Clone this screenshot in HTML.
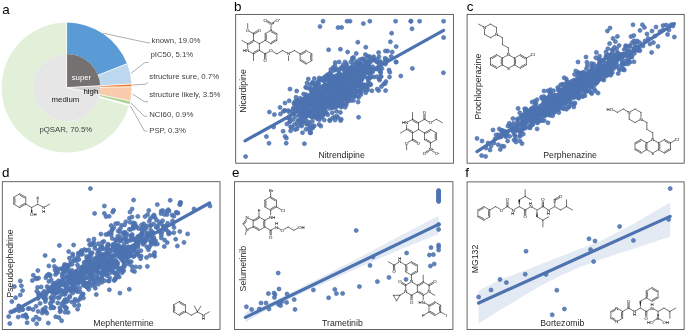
<!DOCTYPE html>
<html><head><meta charset="utf-8"><title>figure</title>
<style>
html,body{margin:0;padding:0;background:#fff;}
body{width:685px;height:331px;overflow:hidden;font-family:"Liberation Sans",Arial,sans-serif;}
svg{display:block;font-family:"Liberation Sans",Arial,sans-serif;}
</style></head><body>
<svg width="685" height="331" viewBox="0 0 685 331">
<rect width="685" height="331" fill="#fff"/>
<g id="pie">
<path d="M66.60,53.90L66.60,22.60A65.0,65.0 0 0 1 127.04,63.67L97.93,75.19A33.7,33.7 0 0 0 66.60,53.90Z" fill="#5b9bd5"/>
<path d="M97.93,75.19L127.04,63.67A65.0,65.0 0 0 1 131.50,83.93L100.25,85.70A33.7,33.7 0 0 0 97.93,75.19Z" fill="#bdd7ee"/>
<path d="M100.25,85.70L131.50,83.93A65.0,65.0 0 0 1 131.59,86.78L100.30,87.18A33.7,33.7 0 0 0 100.25,85.70Z" fill="#ed7d31"/>
<path d="M100.30,87.18L131.59,86.78A65.0,65.0 0 0 1 130.21,100.98L99.58,94.54A33.7,33.7 0 0 0 100.30,87.18Z" fill="#f8cbad"/>
<path d="M99.58,94.54L130.21,100.98A65.0,65.0 0 0 1 129.35,104.55L99.13,96.39A33.7,33.7 0 0 0 99.58,94.54Z" fill="#a9d18e"/>
<path d="M99.13,96.39L129.35,104.55A65.0,65.0 0 0 1 129.02,105.73L98.96,97.00A33.7,33.7 0 0 0 99.13,96.39Z" fill="#ffffff"/>
<path d="M98.96,97.00L129.02,105.73A65.0,65.0 0 1 1 66.60,22.60L66.60,53.90A33.7,33.7 0 1 0 98.96,97.00Z" fill="#e2f0d9"/>
<path d="M66.60,87.60L66.60,53.90A33.7,33.7 0 0 1 100.25,85.70Z" fill="#767171"/>
<path d="M66.60,87.60L100.25,85.70A33.7,33.7 0 0 1 99.58,94.54Z" fill="#d0cece"/>
<path d="M66.60,87.60L99.58,94.54A33.7,33.7 0 1 1 66.60,53.90Z" fill="#e7e6e6"/>
<line x1="66.60" y1="53.90" x2="66.60" y2="22.30" stroke="#fff" stroke-width="0.8"/>
<line x1="97.93" y1="75.19" x2="127.31" y2="63.56" stroke="#fff" stroke-width="0.8"/>
<line x1="100.25" y1="85.70" x2="131.80" y2="83.91" stroke="#fff" stroke-width="0.8"/>
<line x1="100.30" y1="87.18" x2="131.89" y2="86.78" stroke="#fff" stroke-width="0.8"/>
<line x1="99.58" y1="94.54" x2="130.50" y2="101.04" stroke="#fff" stroke-width="0.8"/>
<line x1="99.13" y1="96.39" x2="129.64" y2="104.63" stroke="#fff" stroke-width="0.8"/>
<line x1="98.96" y1="97.00" x2="129.31" y2="105.82" stroke="#fff" stroke-width="0.8"/>
<line x1="66.60" y1="87.60" x2="66.60" y2="53.90" stroke="#fff" stroke-width="0.8"/>
<line x1="66.60" y1="87.60" x2="100.25" y2="85.70" stroke="#fff" stroke-width="0.8"/>
<line x1="66.60" y1="87.60" x2="99.58" y2="94.54" stroke="#fff" stroke-width="0.8"/>
</g>
<polyline fill="none" stroke="#8c8c8c" stroke-width="0.7" points="103.2,33.2 146.7,42.6 150,42.8"/>
<polyline fill="none" stroke="#8c8c8c" stroke-width="0.7" points="130.7,73.6 144.9,62.5 148.5,62.5"/>
<polyline fill="none" stroke="#8c8c8c" stroke-width="0.7" points="132.4,85.0 146.0,84.2 148.2,82.0"/>
<polyline fill="none" stroke="#8c8c8c" stroke-width="0.7" points="132.4,94.0 144.5,101.7 148,101.7"/>
<polyline fill="none" stroke="#8c8c8c" stroke-width="0.7" points="130.7,102.8 144.2,116.2 147.5,116.2"/>
<polyline fill="none" stroke="#8c8c8c" stroke-width="0.7" points="130.2,105.5 144.5,131.1 147.5,131.1"/>
<text x="151.5" y="43.0" font-size="7.8" fill="#404040" text-anchor="start" >known, 19.0%</text>
<text x="150.4" y="57.4" font-size="7.8" fill="#404040" text-anchor="start" >pIC50, 5.1%</text>
<text x="149.3" y="78.5" font-size="7.8" fill="#404040" text-anchor="start" >structure sure, 0.7%</text>
<text x="149.2" y="97.4" font-size="7.8" fill="#404040" text-anchor="start" >structure likely, 3.5%</text>
<text x="149.2" y="117.2" font-size="7.8" fill="#404040" text-anchor="start" >NCI60, 0.9%</text>
<text x="149.2" y="133.1" font-size="7.8" fill="#404040" text-anchor="start" >PSP, 0.3%</text>
<text x="39.4" y="132.2" font-size="7.8" fill="#404040" text-anchor="start" >pQSAR, 70.5%</text>
<text x="71.7" y="80.1" font-size="7.8" fill="#ffffff" text-anchor="start" >super</text>
<text x="83.5" y="93.8" font-size="7.8" fill="#000000" text-anchor="start" >high</text>
<text x="51.6" y="101.7" font-size="7.8" fill="#1a1a1a" text-anchor="start" >medium</text>
<text x="2.2" y="14.0" font-size="13.4" fill="#000" text-anchor="start" >a</text>
<text x="234.1" y="11.0" font-size="13.4" fill="#000" text-anchor="start" >b</text>
<text x="466.8" y="11.1" font-size="13.4" fill="#000" text-anchor="start" >c</text>
<text x="2.0" y="177.4" font-size="13.4" fill="#000" text-anchor="start" >d</text>
<text x="232.1" y="177.4" font-size="13.4" fill="#000" text-anchor="start" >e</text>
<text x="465.2" y="177.2" font-size="13.4" fill="#000" text-anchor="start" >f</text>
<rect x="235.7" y="14.4" width="217.7" height="148.79999999999998" fill="none" stroke="#4a4a4a" stroke-width="0.85"/>
<rect x="467.1" y="14.4" width="217.10000000000002" height="148.79999999999998" fill="none" stroke="#4a4a4a" stroke-width="0.85"/>
<rect x="2.3" y="181.7" width="217.7" height="147.8" fill="none" stroke="#4a4a4a" stroke-width="0.85"/>
<rect x="234.5" y="181.7" width="218.39999999999998" height="147.8" fill="none" stroke="#4a4a4a" stroke-width="0.85"/>
<rect x="467.1" y="181.9" width="217.0" height="147.70000000000002" fill="none" stroke="#4a4a4a" stroke-width="0.85"/>
<g fill="#4c72b0" fill-opacity="0.88" stroke="#4c72b0" stroke-opacity="0.9" stroke-width="0.8"><circle cx="338.0" cy="92.5" r="2"/><circle cx="344.3" cy="89.0" r="2"/><circle cx="332.2" cy="88.6" r="2"/><circle cx="319.3" cy="119.7" r="2"/><circle cx="328.5" cy="98.5" r="2"/><circle cx="317.2" cy="118.7" r="2"/><circle cx="339.3" cy="97.4" r="2"/><circle cx="366.1" cy="65.6" r="2"/><circle cx="327.7" cy="91.8" r="2"/><circle cx="325.0" cy="101.2" r="2"/><circle cx="348.3" cy="83.4" r="2"/><circle cx="345.5" cy="85.0" r="2"/><circle cx="340.2" cy="85.0" r="2"/><circle cx="318.5" cy="83.9" r="2"/><circle cx="337.4" cy="87.3" r="2"/><circle cx="352.6" cy="59.1" r="2"/><circle cx="309.8" cy="109.9" r="2"/><circle cx="328.4" cy="88.1" r="2"/><circle cx="298.1" cy="106.7" r="2"/><circle cx="310.9" cy="103.6" r="2"/><circle cx="299.3" cy="115.3" r="2"/><circle cx="333.1" cy="78.5" r="2"/><circle cx="311.4" cy="88.8" r="2"/><circle cx="343.7" cy="75.5" r="2"/><circle cx="341.3" cy="67.7" r="2"/><circle cx="334.1" cy="82.3" r="2"/><circle cx="285.1" cy="136.5" r="2"/><circle cx="326.7" cy="86.0" r="2"/><circle cx="337.0" cy="95.9" r="2"/><circle cx="340.4" cy="74.6" r="2"/><circle cx="305.9" cy="111.6" r="2"/><circle cx="328.0" cy="92.2" r="2"/><circle cx="317.5" cy="101.1" r="2"/><circle cx="321.0" cy="104.9" r="2"/><circle cx="360.3" cy="92.2" r="2"/><circle cx="321.0" cy="101.3" r="2"/><circle cx="337.3" cy="90.7" r="2"/><circle cx="356.6" cy="68.5" r="2"/><circle cx="325.7" cy="102.1" r="2"/><circle cx="335.7" cy="88.2" r="2"/><circle cx="340.3" cy="95.6" r="2"/><circle cx="339.3" cy="87.9" r="2"/><circle cx="312.3" cy="121.4" r="2"/><circle cx="339.6" cy="69.3" r="2"/><circle cx="366.5" cy="68.8" r="2"/><circle cx="305.5" cy="117.3" r="2"/><circle cx="356.0" cy="74.7" r="2"/><circle cx="340.5" cy="80.0" r="2"/><circle cx="324.5" cy="94.8" r="2"/><circle cx="354.0" cy="80.4" r="2"/><circle cx="312.8" cy="127.7" r="2"/><circle cx="339.6" cy="99.0" r="2"/><circle cx="350.1" cy="71.2" r="2"/><circle cx="334.0" cy="83.2" r="2"/><circle cx="352.3" cy="76.5" r="2"/><circle cx="336.6" cy="99.5" r="2"/><circle cx="352.0" cy="72.7" r="2"/><circle cx="368.2" cy="64.1" r="2"/><circle cx="323.8" cy="106.2" r="2"/><circle cx="342.3" cy="94.7" r="2"/><circle cx="328.3" cy="91.5" r="2"/><circle cx="340.7" cy="76.8" r="2"/><circle cx="313.1" cy="89.6" r="2"/><circle cx="325.8" cy="89.9" r="2"/><circle cx="333.9" cy="70.4" r="2"/><circle cx="356.9" cy="84.7" r="2"/><circle cx="362.0" cy="68.4" r="2"/><circle cx="310.2" cy="110.7" r="2"/><circle cx="321.3" cy="117.1" r="2"/><circle cx="351.6" cy="91.9" r="2"/><circle cx="296.2" cy="103.8" r="2"/><circle cx="328.3" cy="103.3" r="2"/><circle cx="336.0" cy="101.4" r="2"/><circle cx="364.4" cy="65.9" r="2"/><circle cx="352.5" cy="71.2" r="2"/><circle cx="331.1" cy="92.3" r="2"/><circle cx="330.3" cy="78.6" r="2"/><circle cx="332.7" cy="106.3" r="2"/><circle cx="329.0" cy="84.1" r="2"/><circle cx="331.6" cy="90.4" r="2"/><circle cx="345.4" cy="82.4" r="2"/><circle cx="335.5" cy="92.2" r="2"/><circle cx="333.9" cy="94.2" r="2"/><circle cx="314.6" cy="101.4" r="2"/><circle cx="337.8" cy="100.1" r="2"/><circle cx="328.7" cy="74.5" r="2"/><circle cx="362.5" cy="74.1" r="2"/><circle cx="351.7" cy="73.9" r="2"/><circle cx="337.5" cy="90.7" r="2"/><circle cx="352.0" cy="82.6" r="2"/><circle cx="330.9" cy="84.8" r="2"/><circle cx="360.1" cy="69.5" r="2"/><circle cx="337.9" cy="96.7" r="2"/><circle cx="350.3" cy="84.9" r="2"/><circle cx="310.9" cy="99.2" r="2"/><circle cx="345.3" cy="104.0" r="2"/><circle cx="302.5" cy="132.7" r="2"/><circle cx="295.3" cy="101.3" r="2"/><circle cx="331.6" cy="95.9" r="2"/><circle cx="319.1" cy="124.5" r="2"/><circle cx="341.4" cy="94.4" r="2"/><circle cx="385.1" cy="62.4" r="2"/><circle cx="320.5" cy="97.8" r="2"/><circle cx="324.9" cy="92.0" r="2"/><circle cx="342.3" cy="84.4" r="2"/><circle cx="348.4" cy="77.5" r="2"/><circle cx="334.3" cy="98.4" r="2"/><circle cx="333.7" cy="88.0" r="2"/><circle cx="352.8" cy="75.9" r="2"/><circle cx="348.9" cy="71.0" r="2"/><circle cx="316.3" cy="101.9" r="2"/><circle cx="336.3" cy="81.6" r="2"/><circle cx="338.7" cy="86.9" r="2"/><circle cx="315.9" cy="112.5" r="2"/><circle cx="343.5" cy="89.2" r="2"/><circle cx="320.0" cy="104.9" r="2"/><circle cx="358.4" cy="80.0" r="2"/><circle cx="342.0" cy="87.2" r="2"/><circle cx="339.9" cy="86.7" r="2"/><circle cx="325.6" cy="93.8" r="2"/><circle cx="335.5" cy="97.8" r="2"/><circle cx="296.0" cy="104.5" r="2"/><circle cx="314.2" cy="116.4" r="2"/><circle cx="345.6" cy="84.8" r="2"/><circle cx="293.3" cy="109.3" r="2"/><circle cx="355.8" cy="73.6" r="2"/><circle cx="301.3" cy="105.1" r="2"/><circle cx="353.9" cy="80.9" r="2"/><circle cx="320.2" cy="93.1" r="2"/><circle cx="354.4" cy="89.9" r="2"/><circle cx="340.7" cy="80.0" r="2"/><circle cx="305.7" cy="87.2" r="2"/><circle cx="364.2" cy="66.1" r="2"/><circle cx="336.6" cy="89.6" r="2"/><circle cx="332.2" cy="102.7" r="2"/><circle cx="334.6" cy="97.3" r="2"/><circle cx="317.5" cy="88.9" r="2"/><circle cx="361.1" cy="67.8" r="2"/><circle cx="326.6" cy="113.0" r="2"/><circle cx="336.9" cy="92.8" r="2"/><circle cx="321.3" cy="99.3" r="2"/><circle cx="324.9" cy="107.2" r="2"/><circle cx="311.2" cy="128.8" r="2"/><circle cx="364.4" cy="85.3" r="2"/><circle cx="334.8" cy="92.4" r="2"/><circle cx="358.3" cy="80.1" r="2"/><circle cx="338.3" cy="94.8" r="2"/><circle cx="323.4" cy="92.2" r="2"/><circle cx="331.1" cy="83.2" r="2"/><circle cx="326.2" cy="96.8" r="2"/><circle cx="338.2" cy="80.0" r="2"/><circle cx="330.1" cy="93.3" r="2"/><circle cx="331.7" cy="93.9" r="2"/><circle cx="309.0" cy="129.0" r="2"/><circle cx="321.1" cy="91.4" r="2"/><circle cx="372.7" cy="66.7" r="2"/><circle cx="323.9" cy="96.2" r="2"/><circle cx="315.9" cy="106.8" r="2"/><circle cx="345.1" cy="94.7" r="2"/><circle cx="367.6" cy="66.4" r="2"/><circle cx="307.5" cy="100.0" r="2"/><circle cx="333.6" cy="76.2" r="2"/><circle cx="324.7" cy="88.4" r="2"/><circle cx="301.0" cy="116.8" r="2"/><circle cx="353.4" cy="80.1" r="2"/><circle cx="337.5" cy="79.8" r="2"/><circle cx="339.5" cy="84.6" r="2"/><circle cx="322.2" cy="99.1" r="2"/><circle cx="347.6" cy="88.0" r="2"/><circle cx="326.7" cy="90.4" r="2"/><circle cx="335.0" cy="88.6" r="2"/><circle cx="314.7" cy="86.1" r="2"/><circle cx="312.5" cy="93.8" r="2"/><circle cx="366.0" cy="87.3" r="2"/><circle cx="327.4" cy="74.8" r="2"/><circle cx="344.1" cy="82.1" r="2"/><circle cx="337.3" cy="91.6" r="2"/><circle cx="328.7" cy="91.2" r="2"/><circle cx="327.3" cy="87.9" r="2"/><circle cx="351.2" cy="80.4" r="2"/><circle cx="331.7" cy="92.9" r="2"/><circle cx="334.8" cy="90.3" r="2"/><circle cx="338.5" cy="71.0" r="2"/><circle cx="362.7" cy="72.6" r="2"/><circle cx="352.3" cy="72.2" r="2"/><circle cx="346.0" cy="79.0" r="2"/><circle cx="326.2" cy="98.5" r="2"/><circle cx="309.0" cy="112.9" r="2"/><circle cx="357.9" cy="85.4" r="2"/><circle cx="358.3" cy="72.0" r="2"/><circle cx="335.0" cy="99.7" r="2"/><circle cx="349.4" cy="93.3" r="2"/><circle cx="354.4" cy="89.9" r="2"/><circle cx="355.5" cy="91.6" r="2"/><circle cx="357.3" cy="75.9" r="2"/><circle cx="328.4" cy="93.3" r="2"/><circle cx="369.8" cy="77.5" r="2"/><circle cx="311.8" cy="92.1" r="2"/><circle cx="356.1" cy="80.0" r="2"/><circle cx="348.4" cy="77.7" r="2"/><circle cx="356.3" cy="74.4" r="2"/><circle cx="369.2" cy="61.6" r="2"/><circle cx="314.0" cy="103.6" r="2"/><circle cx="302.5" cy="119.2" r="2"/><circle cx="355.2" cy="88.0" r="2"/><circle cx="316.7" cy="101.4" r="2"/><circle cx="337.7" cy="87.5" r="2"/><circle cx="355.6" cy="70.4" r="2"/><circle cx="303.5" cy="114.0" r="2"/><circle cx="293.7" cy="113.8" r="2"/><circle cx="343.4" cy="91.5" r="2"/><circle cx="338.9" cy="105.2" r="2"/><circle cx="332.8" cy="92.0" r="2"/><circle cx="338.8" cy="74.4" r="2"/><circle cx="319.9" cy="92.0" r="2"/><circle cx="306.2" cy="94.7" r="2"/><circle cx="334.5" cy="79.9" r="2"/><circle cx="317.6" cy="114.0" r="2"/><circle cx="303.5" cy="112.4" r="2"/><circle cx="348.6" cy="68.2" r="2"/><circle cx="336.7" cy="96.1" r="2"/><circle cx="346.5" cy="95.9" r="2"/><circle cx="317.2" cy="98.4" r="2"/><circle cx="324.2" cy="91.1" r="2"/><circle cx="317.0" cy="98.7" r="2"/><circle cx="319.4" cy="103.2" r="2"/><circle cx="342.1" cy="92.7" r="2"/><circle cx="321.6" cy="110.4" r="2"/><circle cx="345.5" cy="96.0" r="2"/><circle cx="345.1" cy="96.0" r="2"/><circle cx="380.5" cy="76.0" r="2"/><circle cx="308.8" cy="113.3" r="2"/><circle cx="356.6" cy="63.2" r="2"/><circle cx="336.1" cy="89.0" r="2"/><circle cx="337.7" cy="92.3" r="2"/><circle cx="307.6" cy="104.1" r="2"/><circle cx="328.3" cy="103.7" r="2"/><circle cx="353.6" cy="76.1" r="2"/><circle cx="336.3" cy="81.4" r="2"/><circle cx="339.7" cy="101.8" r="2"/><circle cx="331.9" cy="99.2" r="2"/><circle cx="362.2" cy="76.4" r="2"/><circle cx="337.5" cy="98.2" r="2"/><circle cx="291.8" cy="127.5" r="2"/><circle cx="323.5" cy="101.2" r="2"/><circle cx="296.7" cy="91.0" r="2"/><circle cx="326.9" cy="91.6" r="2"/><circle cx="366.0" cy="62.6" r="2"/><circle cx="339.0" cy="90.4" r="2"/><circle cx="313.4" cy="115.5" r="2"/><circle cx="318.2" cy="96.6" r="2"/><circle cx="361.7" cy="63.8" r="2"/><circle cx="341.3" cy="106.3" r="2"/><circle cx="339.0" cy="84.2" r="2"/><circle cx="336.9" cy="78.1" r="2"/><circle cx="338.8" cy="90.9" r="2"/><circle cx="354.9" cy="82.8" r="2"/><circle cx="349.6" cy="75.3" r="2"/><circle cx="342.5" cy="93.8" r="2"/><circle cx="316.1" cy="97.9" r="2"/><circle cx="348.7" cy="73.8" r="2"/><circle cx="323.6" cy="99.6" r="2"/><circle cx="361.0" cy="82.4" r="2"/><circle cx="311.3" cy="99.4" r="2"/><circle cx="335.1" cy="94.0" r="2"/><circle cx="337.8" cy="88.3" r="2"/><circle cx="310.2" cy="132.9" r="2"/><circle cx="374.2" cy="60.3" r="2"/><circle cx="368.7" cy="83.5" r="2"/><circle cx="328.3" cy="94.6" r="2"/><circle cx="354.2" cy="78.0" r="2"/><circle cx="346.0" cy="91.1" r="2"/><circle cx="283.1" cy="131.2" r="2"/><circle cx="343.3" cy="97.9" r="2"/><circle cx="336.7" cy="93.0" r="2"/><circle cx="339.7" cy="82.3" r="2"/><circle cx="315.4" cy="97.8" r="2"/><circle cx="332.3" cy="97.4" r="2"/><circle cx="334.3" cy="96.9" r="2"/><circle cx="362.9" cy="87.1" r="2"/><circle cx="345.0" cy="88.8" r="2"/><circle cx="337.9" cy="99.2" r="2"/><circle cx="370.1" cy="83.9" r="2"/><circle cx="326.3" cy="97.8" r="2"/><circle cx="329.8" cy="80.0" r="2"/><circle cx="299.8" cy="101.2" r="2"/><circle cx="358.3" cy="91.8" r="2"/><circle cx="357.3" cy="69.3" r="2"/><circle cx="352.0" cy="92.2" r="2"/><circle cx="340.3" cy="93.3" r="2"/><circle cx="342.5" cy="102.6" r="2"/><circle cx="332.7" cy="101.9" r="2"/><circle cx="333.7" cy="90.7" r="2"/><circle cx="339.1" cy="86.5" r="2"/><circle cx="369.7" cy="70.5" r="2"/><circle cx="349.7" cy="83.6" r="2"/><circle cx="336.8" cy="84.8" r="2"/><circle cx="325.8" cy="96.2" r="2"/><circle cx="324.7" cy="112.5" r="2"/><circle cx="348.6" cy="85.1" r="2"/><circle cx="339.4" cy="79.6" r="2"/><circle cx="330.7" cy="95.3" r="2"/><circle cx="314.7" cy="111.3" r="2"/><circle cx="336.6" cy="89.4" r="2"/><circle cx="356.3" cy="85.2" r="2"/><circle cx="329.8" cy="79.0" r="2"/><circle cx="333.2" cy="102.5" r="2"/><circle cx="333.4" cy="86.2" r="2"/><circle cx="340.3" cy="93.6" r="2"/><circle cx="304.5" cy="111.3" r="2"/><circle cx="333.1" cy="67.6" r="2"/><circle cx="320.1" cy="92.9" r="2"/><circle cx="356.6" cy="79.8" r="2"/><circle cx="321.8" cy="113.8" r="2"/><circle cx="350.1" cy="84.4" r="2"/><circle cx="370.0" cy="72.0" r="2"/><circle cx="331.4" cy="79.7" r="2"/><circle cx="325.4" cy="110.4" r="2"/><circle cx="342.0" cy="103.8" r="2"/><circle cx="338.0" cy="89.4" r="2"/><circle cx="317.1" cy="99.8" r="2"/><circle cx="347.7" cy="67.8" r="2"/><circle cx="380.3" cy="71.6" r="2"/><circle cx="332.6" cy="118.1" r="2"/><circle cx="333.7" cy="98.5" r="2"/><circle cx="316.1" cy="114.5" r="2"/><circle cx="344.7" cy="90.2" r="2"/><circle cx="311.8" cy="95.8" r="2"/><circle cx="314.8" cy="116.0" r="2"/><circle cx="364.9" cy="60.9" r="2"/><circle cx="319.0" cy="98.7" r="2"/><circle cx="360.7" cy="77.9" r="2"/><circle cx="370.0" cy="77.9" r="2"/><circle cx="343.4" cy="89.7" r="2"/><circle cx="349.6" cy="85.7" r="2"/><circle cx="379.0" cy="56.8" r="2"/><circle cx="333.9" cy="79.4" r="2"/><circle cx="325.5" cy="97.3" r="2"/><circle cx="309.6" cy="99.7" r="2"/><circle cx="338.9" cy="76.1" r="2"/><circle cx="369.1" cy="58.1" r="2"/><circle cx="358.2" cy="72.1" r="2"/><circle cx="318.2" cy="83.6" r="2"/><circle cx="320.0" cy="87.3" r="2"/><circle cx="327.4" cy="80.0" r="2"/><circle cx="344.1" cy="87.1" r="2"/><circle cx="333.7" cy="95.6" r="2"/><circle cx="342.5" cy="105.4" r="2"/><circle cx="344.2" cy="71.1" r="2"/><circle cx="331.7" cy="86.5" r="2"/><circle cx="337.2" cy="98.3" r="2"/><circle cx="342.3" cy="84.4" r="2"/><circle cx="336.2" cy="87.1" r="2"/><circle cx="348.6" cy="98.9" r="2"/><circle cx="377.3" cy="61.9" r="2"/><circle cx="350.4" cy="70.5" r="2"/><circle cx="339.2" cy="75.9" r="2"/><circle cx="302.6" cy="113.9" r="2"/><circle cx="346.1" cy="87.0" r="2"/><circle cx="297.1" cy="101.1" r="2"/><circle cx="308.4" cy="97.8" r="2"/><circle cx="355.9" cy="83.2" r="2"/><circle cx="352.8" cy="85.5" r="2"/><circle cx="334.9" cy="84.9" r="2"/><circle cx="302.1" cy="117.0" r="2"/><circle cx="330.2" cy="99.3" r="2"/><circle cx="323.7" cy="80.9" r="2"/><circle cx="351.4" cy="78.0" r="2"/><circle cx="385.4" cy="64.1" r="2"/><circle cx="342.6" cy="80.9" r="2"/><circle cx="321.6" cy="78.8" r="2"/><circle cx="313.4" cy="101.4" r="2"/><circle cx="336.8" cy="97.0" r="2"/><circle cx="334.3" cy="106.4" r="2"/><circle cx="313.8" cy="83.1" r="2"/><circle cx="340.4" cy="112.4" r="2"/><circle cx="313.8" cy="93.2" r="2"/><circle cx="361.4" cy="83.9" r="2"/><circle cx="360.3" cy="87.2" r="2"/><circle cx="360.8" cy="84.5" r="2"/><circle cx="328.0" cy="96.6" r="2"/><circle cx="348.8" cy="71.5" r="2"/><circle cx="335.2" cy="96.8" r="2"/><circle cx="329.8" cy="87.3" r="2"/><circle cx="330.9" cy="69.5" r="2"/><circle cx="310.7" cy="132.7" r="2"/><circle cx="307.7" cy="114.4" r="2"/><circle cx="354.7" cy="96.2" r="2"/><circle cx="334.0" cy="82.9" r="2"/><circle cx="342.5" cy="100.3" r="2"/><circle cx="359.0" cy="91.3" r="2"/><circle cx="301.6" cy="126.1" r="2"/><circle cx="321.5" cy="99.0" r="2"/><circle cx="341.7" cy="75.4" r="2"/><circle cx="346.2" cy="82.4" r="2"/><circle cx="330.1" cy="73.0" r="2"/><circle cx="359.6" cy="59.7" r="2"/><circle cx="342.4" cy="87.3" r="2"/><circle cx="312.5" cy="95.3" r="2"/><circle cx="318.5" cy="99.5" r="2"/><circle cx="354.9" cy="77.7" r="2"/><circle cx="347.7" cy="101.5" r="2"/><circle cx="298.1" cy="125.8" r="2"/><circle cx="366.3" cy="71.4" r="2"/><circle cx="350.6" cy="92.9" r="2"/><circle cx="366.2" cy="64.4" r="2"/><circle cx="329.9" cy="90.8" r="2"/><circle cx="331.8" cy="101.5" r="2"/><circle cx="314.3" cy="91.8" r="2"/><circle cx="334.3" cy="78.8" r="2"/><circle cx="371.3" cy="69.8" r="2"/><circle cx="324.4" cy="112.9" r="2"/><circle cx="341.4" cy="79.9" r="2"/><circle cx="302.9" cy="112.7" r="2"/><circle cx="330.0" cy="85.5" r="2"/><circle cx="358.7" cy="65.5" r="2"/><circle cx="311.7" cy="93.4" r="2"/><circle cx="360.5" cy="89.2" r="2"/><circle cx="345.1" cy="107.2" r="2"/><circle cx="316.1" cy="107.1" r="2"/><circle cx="327.5" cy="88.7" r="2"/><circle cx="328.4" cy="101.7" r="2"/><circle cx="337.0" cy="86.6" r="2"/><circle cx="326.7" cy="103.6" r="2"/><circle cx="320.6" cy="102.5" r="2"/><circle cx="331.6" cy="95.7" r="2"/><circle cx="316.4" cy="108.1" r="2"/><circle cx="310.9" cy="100.2" r="2"/><circle cx="337.0" cy="85.9" r="2"/><circle cx="356.5" cy="61.4" r="2"/><circle cx="305.9" cy="104.5" r="2"/><circle cx="338.1" cy="75.5" r="2"/><circle cx="324.4" cy="96.1" r="2"/><circle cx="317.5" cy="92.6" r="2"/><circle cx="355.9" cy="79.1" r="2"/><circle cx="327.1" cy="100.1" r="2"/><circle cx="369.5" cy="56.4" r="2"/><circle cx="321.6" cy="91.4" r="2"/><circle cx="346.1" cy="75.2" r="2"/><circle cx="333.2" cy="99.1" r="2"/><circle cx="322.2" cy="115.0" r="2"/><circle cx="350.3" cy="89.6" r="2"/><circle cx="334.7" cy="87.8" r="2"/><circle cx="350.7" cy="95.3" r="2"/><circle cx="337.0" cy="75.3" r="2"/><circle cx="315.2" cy="117.3" r="2"/><circle cx="335.9" cy="84.2" r="2"/><circle cx="339.1" cy="62.0" r="2"/><circle cx="358.1" cy="102.0" r="2"/><circle cx="319.0" cy="115.7" r="2"/><circle cx="337.2" cy="79.8" r="2"/><circle cx="301.8" cy="112.8" r="2"/><circle cx="351.7" cy="78.7" r="2"/><circle cx="315.3" cy="104.0" r="2"/><circle cx="300.1" cy="98.2" r="2"/><circle cx="336.8" cy="83.4" r="2"/><circle cx="361.2" cy="79.3" r="2"/><circle cx="306.0" cy="110.8" r="2"/><circle cx="315.2" cy="114.5" r="2"/><circle cx="322.4" cy="99.4" r="2"/><circle cx="314.3" cy="125.9" r="2"/><circle cx="346.0" cy="77.4" r="2"/><circle cx="321.0" cy="101.9" r="2"/><circle cx="322.8" cy="80.2" r="2"/><circle cx="350.2" cy="69.7" r="2"/><circle cx="322.1" cy="111.4" r="2"/><circle cx="347.1" cy="74.6" r="2"/><circle cx="317.6" cy="106.6" r="2"/><circle cx="312.5" cy="104.1" r="2"/><circle cx="299.5" cy="102.7" r="2"/><circle cx="377.1" cy="61.9" r="2"/><circle cx="331.3" cy="88.3" r="2"/><circle cx="343.1" cy="81.3" r="2"/><circle cx="337.3" cy="96.7" r="2"/><circle cx="341.4" cy="93.2" r="2"/><circle cx="339.0" cy="83.0" r="2"/><circle cx="316.2" cy="105.1" r="2"/><circle cx="305.3" cy="108.2" r="2"/><circle cx="316.7" cy="111.9" r="2"/><circle cx="310.0" cy="131.5" r="2"/><circle cx="353.7" cy="87.5" r="2"/><circle cx="355.2" cy="78.2" r="2"/><circle cx="317.8" cy="99.8" r="2"/><circle cx="308.8" cy="98.8" r="2"/><circle cx="330.5" cy="85.0" r="2"/><circle cx="367.2" cy="61.7" r="2"/><circle cx="349.1" cy="78.3" r="2"/><circle cx="315.4" cy="110.0" r="2"/><circle cx="359.8" cy="72.0" r="2"/><circle cx="315.4" cy="101.1" r="2"/><circle cx="332.0" cy="81.2" r="2"/><circle cx="306.4" cy="124.1" r="2"/><circle cx="317.5" cy="106.5" r="2"/><circle cx="367.1" cy="88.3" r="2"/><circle cx="355.2" cy="86.1" r="2"/><circle cx="329.6" cy="108.4" r="2"/><circle cx="319.7" cy="97.9" r="2"/><circle cx="298.2" cy="120.2" r="2"/><circle cx="329.7" cy="119.9" r="2"/><circle cx="337.4" cy="77.9" r="2"/><circle cx="336.2" cy="101.4" r="2"/><circle cx="336.0" cy="106.4" r="2"/><circle cx="314.4" cy="107.5" r="2"/><circle cx="336.6" cy="97.2" r="2"/><circle cx="337.2" cy="101.8" r="2"/><circle cx="365.1" cy="66.2" r="2"/><circle cx="377.2" cy="69.1" r="2"/><circle cx="335.1" cy="82.4" r="2"/><circle cx="321.9" cy="92.4" r="2"/><circle cx="336.6" cy="83.9" r="2"/><circle cx="325.2" cy="95.5" r="2"/><circle cx="322.4" cy="100.1" r="2"/><circle cx="336.8" cy="94.3" r="2"/><circle cx="316.1" cy="88.7" r="2"/><circle cx="350.7" cy="100.6" r="2"/><circle cx="335.8" cy="101.7" r="2"/><circle cx="343.3" cy="93.0" r="2"/><circle cx="334.2" cy="88.0" r="2"/><circle cx="322.7" cy="97.6" r="2"/><circle cx="318.1" cy="106.6" r="2"/><circle cx="333.0" cy="96.2" r="2"/><circle cx="326.5" cy="79.8" r="2"/><circle cx="342.9" cy="93.3" r="2"/><circle cx="337.9" cy="117.5" r="2"/><circle cx="309.4" cy="88.6" r="2"/><circle cx="339.4" cy="97.9" r="2"/><circle cx="309.8" cy="109.9" r="2"/><circle cx="325.1" cy="95.9" r="2"/><circle cx="331.8" cy="106.2" r="2"/><circle cx="294.4" cy="104.2" r="2"/><circle cx="339.9" cy="89.5" r="2"/><circle cx="341.2" cy="101.4" r="2"/><circle cx="334.7" cy="89.2" r="2"/><circle cx="329.1" cy="90.5" r="2"/><circle cx="330.2" cy="95.0" r="2"/><circle cx="317.5" cy="97.3" r="2"/><circle cx="332.3" cy="107.7" r="2"/><circle cx="326.4" cy="87.3" r="2"/><circle cx="339.9" cy="96.4" r="2"/><circle cx="312.7" cy="92.3" r="2"/><circle cx="342.9" cy="92.6" r="2"/><circle cx="341.0" cy="86.2" r="2"/><circle cx="335.0" cy="65.7" r="2"/><circle cx="328.8" cy="94.7" r="2"/><circle cx="349.6" cy="71.6" r="2"/><circle cx="303.0" cy="106.1" r="2"/><circle cx="347.7" cy="98.2" r="2"/><circle cx="343.1" cy="75.1" r="2"/><circle cx="344.0" cy="75.1" r="2"/><circle cx="346.0" cy="98.2" r="2"/><circle cx="324.3" cy="98.6" r="2"/><circle cx="332.6" cy="107.5" r="2"/><circle cx="351.4" cy="84.1" r="2"/><circle cx="347.0" cy="75.0" r="2"/><circle cx="342.3" cy="85.8" r="2"/><circle cx="306.2" cy="120.6" r="2"/><circle cx="349.3" cy="91.4" r="2"/><circle cx="362.6" cy="74.1" r="2"/><circle cx="359.2" cy="76.6" r="2"/><circle cx="342.9" cy="85.0" r="2"/><circle cx="305.3" cy="103.5" r="2"/><circle cx="357.8" cy="95.9" r="2"/><circle cx="334.9" cy="91.1" r="2"/><circle cx="284.8" cy="110.6" r="2"/><circle cx="345.9" cy="79.6" r="2"/><circle cx="306.7" cy="115.4" r="2"/><circle cx="310.8" cy="112.0" r="2"/><circle cx="324.7" cy="95.9" r="2"/><circle cx="364.7" cy="66.2" r="2"/><circle cx="330.2" cy="94.1" r="2"/><circle cx="343.7" cy="69.3" r="2"/><circle cx="371.5" cy="76.4" r="2"/><circle cx="335.8" cy="85.7" r="2"/><circle cx="332.9" cy="95.9" r="2"/><circle cx="311.5" cy="117.2" r="2"/><circle cx="323.4" cy="104.4" r="2"/><circle cx="346.9" cy="83.8" r="2"/><circle cx="346.3" cy="104.8" r="2"/><circle cx="340.3" cy="94.2" r="2"/><circle cx="358.9" cy="72.9" r="2"/><circle cx="321.8" cy="106.2" r="2"/><circle cx="336.8" cy="93.8" r="2"/><circle cx="353.4" cy="71.4" r="2"/><circle cx="350.3" cy="82.3" r="2"/><circle cx="360.5" cy="73.7" r="2"/><circle cx="346.3" cy="64.8" r="2"/><circle cx="331.5" cy="91.4" r="2"/><circle cx="345.6" cy="81.7" r="2"/><circle cx="316.9" cy="97.7" r="2"/><circle cx="303.6" cy="94.1" r="2"/><circle cx="350.2" cy="78.2" r="2"/><circle cx="336.8" cy="89.4" r="2"/><circle cx="344.5" cy="86.1" r="2"/><circle cx="302.3" cy="99.8" r="2"/><circle cx="330.3" cy="100.0" r="2"/><circle cx="325.4" cy="84.9" r="2"/><circle cx="319.9" cy="98.0" r="2"/><circle cx="290.6" cy="130.8" r="2"/><circle cx="331.0" cy="86.6" r="2"/><circle cx="356.8" cy="72.6" r="2"/><circle cx="346.0" cy="94.7" r="2"/><circle cx="325.4" cy="93.1" r="2"/><circle cx="337.7" cy="86.4" r="2"/><circle cx="353.9" cy="81.5" r="2"/><circle cx="335.4" cy="69.2" r="2"/><circle cx="349.4" cy="74.0" r="2"/><circle cx="352.3" cy="70.5" r="2"/><circle cx="373.7" cy="56.7" r="2"/><circle cx="361.8" cy="66.2" r="2"/><circle cx="344.6" cy="76.9" r="2"/><circle cx="344.3" cy="88.2" r="2"/><circle cx="354.5" cy="70.3" r="2"/><circle cx="326.7" cy="97.2" r="2"/><circle cx="337.2" cy="93.5" r="2"/><circle cx="357.0" cy="70.4" r="2"/><circle cx="379.1" cy="65.2" r="2"/><circle cx="334.7" cy="107.1" r="2"/><circle cx="337.0" cy="92.9" r="2"/><circle cx="342.2" cy="80.4" r="2"/><circle cx="366.2" cy="71.2" r="2"/><circle cx="337.4" cy="80.6" r="2"/><circle cx="368.9" cy="72.9" r="2"/><circle cx="317.7" cy="109.9" r="2"/><circle cx="334.1" cy="83.5" r="2"/><circle cx="333.8" cy="89.6" r="2"/><circle cx="354.5" cy="89.8" r="2"/><circle cx="360.0" cy="70.8" r="2"/><circle cx="306.3" cy="110.3" r="2"/><circle cx="318.8" cy="90.9" r="2"/><circle cx="345.1" cy="76.8" r="2"/><circle cx="324.2" cy="92.6" r="2"/><circle cx="306.0" cy="129.3" r="2"/><circle cx="359.8" cy="71.9" r="2"/><circle cx="348.4" cy="77.7" r="2"/><circle cx="348.4" cy="77.4" r="2"/><circle cx="328.0" cy="93.6" r="2"/><circle cx="359.6" cy="82.1" r="2"/><circle cx="333.0" cy="94.0" r="2"/><circle cx="361.0" cy="94.6" r="2"/><circle cx="318.9" cy="102.8" r="2"/><circle cx="320.1" cy="113.8" r="2"/><circle cx="342.3" cy="89.1" r="2"/><circle cx="323.3" cy="103.9" r="2"/><circle cx="352.2" cy="66.7" r="2"/><circle cx="343.5" cy="84.6" r="2"/><circle cx="318.6" cy="100.3" r="2"/><circle cx="339.5" cy="85.9" r="2"/><circle cx="330.6" cy="73.2" r="2"/><circle cx="357.2" cy="85.7" r="2"/><circle cx="324.7" cy="93.5" r="2"/><circle cx="328.8" cy="90.6" r="2"/><circle cx="363.4" cy="71.1" r="2"/><circle cx="385.0" cy="58.2" r="2"/><circle cx="380.0" cy="67.3" r="2"/><circle cx="339.3" cy="76.2" r="2"/><circle cx="342.6" cy="77.4" r="2"/><circle cx="370.2" cy="72.2" r="2"/><circle cx="335.4" cy="92.1" r="2"/><circle cx="317.5" cy="98.1" r="2"/><circle cx="340.5" cy="82.1" r="2"/><circle cx="347.5" cy="75.4" r="2"/><circle cx="320.6" cy="99.2" r="2"/><circle cx="303.4" cy="121.5" r="2"/><circle cx="307.8" cy="97.5" r="2"/><circle cx="352.0" cy="95.0" r="2"/><circle cx="322.1" cy="106.9" r="2"/><circle cx="335.0" cy="86.6" r="2"/><circle cx="342.5" cy="93.8" r="2"/><circle cx="351.0" cy="67.2" r="2"/><circle cx="331.0" cy="77.0" r="2"/><circle cx="348.5" cy="70.4" r="2"/><circle cx="319.3" cy="96.6" r="2"/><circle cx="330.4" cy="90.7" r="2"/><circle cx="316.5" cy="97.4" r="2"/><circle cx="361.8" cy="75.5" r="2"/><circle cx="337.4" cy="69.2" r="2"/><circle cx="322.5" cy="103.3" r="2"/><circle cx="330.6" cy="80.1" r="2"/><circle cx="333.3" cy="85.7" r="2"/><circle cx="352.7" cy="76.2" r="2"/><circle cx="304.5" cy="98.6" r="2"/><circle cx="316.2" cy="89.4" r="2"/><circle cx="330.1" cy="84.4" r="2"/><circle cx="391.2" cy="56.5" r="2"/><circle cx="358.1" cy="82.4" r="2"/><circle cx="335.7" cy="95.9" r="2"/><circle cx="353.0" cy="70.5" r="2"/><circle cx="333.1" cy="83.4" r="2"/><circle cx="330.3" cy="98.1" r="2"/><circle cx="348.4" cy="94.5" r="2"/><circle cx="352.1" cy="75.9" r="2"/><circle cx="327.3" cy="88.2" r="2"/><circle cx="378.4" cy="67.6" r="2"/><circle cx="373.9" cy="77.0" r="2"/><circle cx="349.9" cy="85.1" r="2"/><circle cx="352.4" cy="90.3" r="2"/><circle cx="295.4" cy="116.4" r="2"/><circle cx="351.4" cy="92.6" r="2"/><circle cx="333.9" cy="103.4" r="2"/><circle cx="347.1" cy="82.6" r="2"/><circle cx="352.3" cy="94.0" r="2"/><circle cx="330.8" cy="95.0" r="2"/><circle cx="302.5" cy="111.6" r="2"/><circle cx="345.7" cy="75.6" r="2"/><circle cx="322.4" cy="95.9" r="2"/><circle cx="331.1" cy="100.7" r="2"/><circle cx="325.3" cy="84.4" r="2"/><circle cx="330.8" cy="99.7" r="2"/><circle cx="289.5" cy="122.1" r="2"/><circle cx="363.6" cy="76.1" r="2"/><circle cx="343.3" cy="64.9" r="2"/><circle cx="361.3" cy="73.8" r="2"/><circle cx="379.6" cy="69.8" r="2"/><circle cx="338.5" cy="81.6" r="2"/><circle cx="300.1" cy="113.1" r="2"/><circle cx="319.2" cy="78.0" r="2"/><circle cx="312.7" cy="111.0" r="2"/><circle cx="327.5" cy="89.3" r="2"/><circle cx="339.7" cy="96.4" r="2"/><circle cx="296.0" cy="97.3" r="2"/><circle cx="345.2" cy="91.3" r="2"/><circle cx="306.3" cy="106.2" r="2"/><circle cx="344.2" cy="93.0" r="2"/><circle cx="335.7" cy="81.7" r="2"/><circle cx="331.4" cy="87.3" r="2"/><circle cx="336.5" cy="111.3" r="2"/><circle cx="326.7" cy="88.1" r="2"/><circle cx="325.1" cy="90.3" r="2"/><circle cx="302.7" cy="108.1" r="2"/><circle cx="337.4" cy="79.8" r="2"/><circle cx="376.8" cy="76.7" r="2"/><circle cx="379.6" cy="80.1" r="2"/><circle cx="365.8" cy="65.4" r="2"/><circle cx="352.8" cy="63.6" r="2"/><circle cx="323.8" cy="108.9" r="2"/><circle cx="368.3" cy="81.1" r="2"/><circle cx="336.8" cy="97.6" r="2"/><circle cx="336.6" cy="101.0" r="2"/><circle cx="331.9" cy="84.6" r="2"/><circle cx="339.9" cy="86.3" r="2"/><circle cx="328.9" cy="81.5" r="2"/><circle cx="336.2" cy="76.7" r="2"/><circle cx="315.2" cy="112.4" r="2"/><circle cx="330.2" cy="87.5" r="2"/><circle cx="385.9" cy="81.5" r="2"/><circle cx="336.5" cy="90.7" r="2"/><circle cx="333.0" cy="86.1" r="2"/><circle cx="349.2" cy="89.8" r="2"/><circle cx="352.9" cy="97.1" r="2"/><circle cx="314.6" cy="108.0" r="2"/><circle cx="333.6" cy="80.2" r="2"/><circle cx="357.3" cy="80.8" r="2"/><circle cx="343.7" cy="98.7" r="2"/><circle cx="340.6" cy="82.9" r="2"/><circle cx="370.6" cy="61.8" r="2"/><circle cx="323.8" cy="107.5" r="2"/><circle cx="339.7" cy="89.4" r="2"/><circle cx="327.1" cy="85.3" r="2"/><circle cx="369.3" cy="66.4" r="2"/><circle cx="297.0" cy="107.0" r="2"/><circle cx="323.9" cy="100.5" r="2"/><circle cx="326.9" cy="96.9" r="2"/><circle cx="351.9" cy="91.5" r="2"/><circle cx="350.7" cy="88.1" r="2"/><circle cx="367.3" cy="56.3" r="2"/><circle cx="304.9" cy="113.2" r="2"/><circle cx="353.8" cy="88.0" r="2"/><circle cx="331.8" cy="97.2" r="2"/><circle cx="324.0" cy="107.4" r="2"/><circle cx="349.3" cy="77.0" r="2"/><circle cx="318.7" cy="91.9" r="2"/><circle cx="294.4" cy="124.6" r="2"/><circle cx="330.2" cy="83.7" r="2"/><circle cx="306.5" cy="87.8" r="2"/><circle cx="324.4" cy="107.2" r="2"/><circle cx="345.8" cy="77.5" r="2"/><circle cx="344.6" cy="82.2" r="2"/><circle cx="333.8" cy="79.1" r="2"/><circle cx="305.8" cy="97.8" r="2"/><circle cx="322.1" cy="95.4" r="2"/><circle cx="318.7" cy="104.4" r="2"/><circle cx="312.4" cy="82.9" r="2"/><circle cx="347.1" cy="90.7" r="2"/><circle cx="324.5" cy="86.2" r="2"/><circle cx="296.5" cy="104.4" r="2"/><circle cx="352.6" cy="86.6" r="2"/><circle cx="335.7" cy="89.8" r="2"/><circle cx="345.5" cy="69.9" r="2"/><circle cx="340.2" cy="105.3" r="2"/><circle cx="351.3" cy="72.8" r="2"/><circle cx="338.8" cy="91.0" r="2"/><circle cx="364.0" cy="75.1" r="2"/><circle cx="346.9" cy="97.1" r="2"/><circle cx="346.2" cy="79.7" r="2"/><circle cx="346.6" cy="93.4" r="2"/><circle cx="307.4" cy="100.8" r="2"/><circle cx="334.5" cy="101.9" r="2"/><circle cx="332.6" cy="85.2" r="2"/><circle cx="342.4" cy="83.0" r="2"/><circle cx="309.5" cy="124.6" r="2"/><circle cx="372.3" cy="71.1" r="2"/><circle cx="340.2" cy="88.8" r="2"/><circle cx="312.6" cy="126.0" r="2"/><circle cx="302.1" cy="114.5" r="2"/><circle cx="332.1" cy="85.0" r="2"/><circle cx="336.1" cy="97.2" r="2"/><circle cx="322.9" cy="87.1" r="2"/><circle cx="339.9" cy="98.6" r="2"/><circle cx="324.5" cy="108.8" r="2"/><circle cx="349.6" cy="76.6" r="2"/><circle cx="322.8" cy="92.4" r="2"/><circle cx="337.2" cy="91.3" r="2"/><circle cx="358.6" cy="76.7" r="2"/><circle cx="316.8" cy="107.4" r="2"/><circle cx="328.2" cy="75.7" r="2"/><circle cx="320.4" cy="95.8" r="2"/><circle cx="354.5" cy="75.2" r="2"/><circle cx="313.9" cy="101.2" r="2"/><circle cx="327.8" cy="98.2" r="2"/><circle cx="337.4" cy="77.8" r="2"/><circle cx="317.4" cy="107.3" r="2"/><circle cx="317.9" cy="99.7" r="2"/><circle cx="328.0" cy="89.0" r="2"/><circle cx="293.9" cy="103.1" r="2"/><circle cx="307.6" cy="96.4" r="2"/><circle cx="329.3" cy="97.8" r="2"/><circle cx="341.1" cy="78.0" r="2"/><circle cx="334.1" cy="92.1" r="2"/><circle cx="300.7" cy="122.0" r="2"/><circle cx="328.3" cy="104.9" r="2"/><circle cx="354.8" cy="93.7" r="2"/><circle cx="349.7" cy="79.1" r="2"/><circle cx="336.3" cy="79.8" r="2"/><circle cx="319.4" cy="110.2" r="2"/><circle cx="351.3" cy="83.9" r="2"/><circle cx="325.8" cy="107.2" r="2"/><circle cx="313.4" cy="104.2" r="2"/><circle cx="321.2" cy="110.8" r="2"/><circle cx="368.4" cy="78.5" r="2"/><circle cx="342.6" cy="93.1" r="2"/><circle cx="362.3" cy="79.0" r="2"/><circle cx="327.9" cy="99.0" r="2"/><circle cx="357.7" cy="79.3" r="2"/><circle cx="325.4" cy="99.0" r="2"/><circle cx="334.7" cy="100.5" r="2"/><circle cx="354.1" cy="95.7" r="2"/><circle cx="327.5" cy="94.5" r="2"/><circle cx="336.2" cy="99.6" r="2"/><circle cx="344.9" cy="84.1" r="2"/><circle cx="363.4" cy="71.2" r="2"/><circle cx="327.7" cy="114.7" r="2"/><circle cx="301.4" cy="108.5" r="2"/><circle cx="332.1" cy="80.6" r="2"/><circle cx="338.3" cy="82.1" r="2"/><circle cx="340.3" cy="84.7" r="2"/><circle cx="365.7" cy="92.7" r="2"/><circle cx="344.7" cy="87.0" r="2"/><circle cx="355.1" cy="87.5" r="2"/><circle cx="314.9" cy="93.7" r="2"/><circle cx="356.2" cy="81.3" r="2"/><circle cx="382.0" cy="68.6" r="2"/><circle cx="354.2" cy="96.3" r="2"/><circle cx="343.3" cy="79.2" r="2"/><circle cx="341.2" cy="92.9" r="2"/><circle cx="375.5" cy="69.0" r="2"/><circle cx="318.5" cy="91.3" r="2"/><circle cx="335.7" cy="90.3" r="2"/><circle cx="347.7" cy="80.7" r="2"/><circle cx="353.6" cy="57.5" r="2"/><circle cx="328.8" cy="100.4" r="2"/><circle cx="344.5" cy="90.3" r="2"/><circle cx="332.2" cy="88.5" r="2"/><circle cx="340.5" cy="74.8" r="2"/><circle cx="335.2" cy="104.9" r="2"/><circle cx="314.0" cy="106.3" r="2"/><circle cx="337.6" cy="99.0" r="2"/><circle cx="356.4" cy="91.2" r="2"/><circle cx="317.7" cy="96.6" r="2"/><circle cx="332.9" cy="99.9" r="2"/><circle cx="352.0" cy="78.3" r="2"/><circle cx="315.5" cy="102.2" r="2"/><circle cx="341.8" cy="85.9" r="2"/><circle cx="315.7" cy="102.7" r="2"/><circle cx="361.8" cy="85.1" r="2"/><circle cx="386.6" cy="60.6" r="2"/><circle cx="380.5" cy="61.7" r="2"/><circle cx="333.4" cy="89.3" r="2"/><circle cx="353.5" cy="82.8" r="2"/><circle cx="340.5" cy="79.0" r="2"/><circle cx="340.1" cy="83.0" r="2"/><circle cx="370.5" cy="68.7" r="2"/><circle cx="310.3" cy="100.7" r="2"/><circle cx="360.2" cy="74.4" r="2"/><circle cx="337.0" cy="83.9" r="2"/><circle cx="367.6" cy="90.1" r="2"/><circle cx="341.9" cy="99.3" r="2"/><circle cx="323.9" cy="102.0" r="2"/><circle cx="343.8" cy="85.0" r="2"/><circle cx="353.5" cy="100.5" r="2"/><circle cx="338.8" cy="91.7" r="2"/><circle cx="348.2" cy="82.0" r="2"/><circle cx="327.0" cy="98.7" r="2"/><circle cx="293.2" cy="119.4" r="2"/><circle cx="356.9" cy="90.9" r="2"/><circle cx="352.7" cy="79.9" r="2"/><circle cx="341.1" cy="107.1" r="2"/><circle cx="339.4" cy="79.8" r="2"/><circle cx="359.8" cy="82.4" r="2"/><circle cx="328.4" cy="85.5" r="2"/><circle cx="323.2" cy="115.4" r="2"/><circle cx="334.0" cy="88.4" r="2"/><circle cx="363.0" cy="73.3" r="2"/><circle cx="308.9" cy="115.7" r="2"/><circle cx="363.0" cy="85.7" r="2"/><circle cx="324.6" cy="86.7" r="2"/><circle cx="314.9" cy="99.9" r="2"/><circle cx="364.5" cy="59.7" r="2"/><circle cx="336.0" cy="91.7" r="2"/><circle cx="310.7" cy="104.8" r="2"/><circle cx="330.5" cy="90.4" r="2"/><circle cx="357.6" cy="70.6" r="2"/><circle cx="363.0" cy="70.1" r="2"/><circle cx="329.0" cy="87.5" r="2"/><circle cx="346.5" cy="88.9" r="2"/><circle cx="353.0" cy="94.3" r="2"/><circle cx="324.5" cy="79.0" r="2"/><circle cx="345.5" cy="83.4" r="2"/><circle cx="337.3" cy="85.5" r="2"/><circle cx="326.7" cy="100.7" r="2"/><circle cx="327.7" cy="86.4" r="2"/><circle cx="339.4" cy="86.9" r="2"/><circle cx="338.6" cy="78.8" r="2"/><circle cx="326.1" cy="103.0" r="2"/><circle cx="329.1" cy="95.5" r="2"/><circle cx="361.4" cy="73.3" r="2"/><circle cx="342.5" cy="89.9" r="2"/><circle cx="356.6" cy="75.4" r="2"/><circle cx="363.2" cy="58.9" r="2"/><circle cx="350.4" cy="87.2" r="2"/><circle cx="385.7" cy="62.7" r="2"/><circle cx="320.7" cy="98.2" r="2"/><circle cx="355.0" cy="88.1" r="2"/><circle cx="331.3" cy="104.8" r="2"/><circle cx="373.7" cy="59.8" r="2"/><circle cx="297.0" cy="128.9" r="2"/><circle cx="317.7" cy="115.0" r="2"/><circle cx="352.0" cy="73.6" r="2"/><circle cx="354.6" cy="67.7" r="2"/><circle cx="353.5" cy="73.6" r="2"/><circle cx="336.5" cy="85.3" r="2"/><circle cx="347.6" cy="68.2" r="2"/><circle cx="351.7" cy="81.0" r="2"/><circle cx="336.4" cy="77.9" r="2"/><circle cx="359.6" cy="64.4" r="2"/><circle cx="290.6" cy="126.8" r="2"/><circle cx="351.3" cy="74.5" r="2"/><circle cx="316.3" cy="101.7" r="2"/><circle cx="358.1" cy="82.8" r="2"/><circle cx="333.2" cy="99.8" r="2"/><circle cx="319.3" cy="97.3" r="2"/><circle cx="345.9" cy="84.7" r="2"/><circle cx="318.9" cy="93.0" r="2"/><circle cx="318.8" cy="117.4" r="2"/><circle cx="305.1" cy="115.4" r="2"/><circle cx="337.4" cy="79.0" r="2"/><circle cx="348.4" cy="82.8" r="2"/><circle cx="359.5" cy="82.7" r="2"/><circle cx="335.0" cy="95.5" r="2"/><circle cx="360.0" cy="93.0" r="2"/><circle cx="338.4" cy="101.9" r="2"/><circle cx="336.0" cy="85.2" r="2"/><circle cx="350.0" cy="80.9" r="2"/><circle cx="360.2" cy="63.3" r="2"/><circle cx="330.8" cy="95.9" r="2"/><circle cx="332.9" cy="93.7" r="2"/><circle cx="334.6" cy="116.9" r="2"/><circle cx="339.7" cy="89.0" r="2"/><circle cx="319.1" cy="80.8" r="2"/><circle cx="359.6" cy="69.5" r="2"/><circle cx="329.6" cy="95.3" r="2"/><circle cx="347.7" cy="71.2" r="2"/><circle cx="320.7" cy="91.5" r="2"/><circle cx="320.7" cy="79.3" r="2"/><circle cx="342.6" cy="66.8" r="2"/><circle cx="326.9" cy="101.9" r="2"/><circle cx="304.4" cy="143.7" r="2"/><circle cx="356.4" cy="64.9" r="2"/><circle cx="315.3" cy="115.1" r="2"/><circle cx="316.5" cy="104.6" r="2"/><circle cx="289.2" cy="100.8" r="2"/><circle cx="307.6" cy="102.1" r="2"/><circle cx="352.2" cy="77.9" r="2"/><circle cx="329.8" cy="120.7" r="2"/><circle cx="320.3" cy="104.3" r="2"/><circle cx="339.4" cy="92.9" r="2"/><circle cx="297.4" cy="103.6" r="2"/><circle cx="372.6" cy="72.0" r="2"/><circle cx="366.1" cy="85.7" r="2"/><circle cx="339.3" cy="90.5" r="2"/><circle cx="299.6" cy="120.2" r="2"/><circle cx="385.1" cy="83.6" r="2"/><circle cx="341.2" cy="119.2" r="2"/><circle cx="370.7" cy="84.7" r="2"/><circle cx="313.2" cy="117.1" r="2"/><circle cx="326.1" cy="76.0" r="2"/><circle cx="332.0" cy="90.8" r="2"/><circle cx="345.1" cy="73.8" r="2"/><circle cx="284.6" cy="110.6" r="2"/><circle cx="361.2" cy="89.8" r="2"/><circle cx="373.0" cy="58.4" r="2"/><circle cx="296.4" cy="110.4" r="2"/><circle cx="290.0" cy="89.1" r="2"/><circle cx="342.9" cy="84.2" r="2"/><circle cx="311.7" cy="105.0" r="2"/><circle cx="357.1" cy="68.4" r="2"/><circle cx="336.8" cy="116.2" r="2"/><circle cx="317.2" cy="83.7" r="2"/><circle cx="336.3" cy="78.7" r="2"/><circle cx="308.6" cy="122.2" r="2"/><circle cx="335.1" cy="120.1" r="2"/><circle cx="299.8" cy="115.0" r="2"/><circle cx="308.4" cy="95.5" r="2"/><circle cx="344.0" cy="79.8" r="2"/><circle cx="314.8" cy="116.9" r="2"/><circle cx="318.0" cy="87.5" r="2"/><circle cx="383.7" cy="84.0" r="2"/><circle cx="358.6" cy="97.5" r="2"/><circle cx="356.9" cy="79.6" r="2"/><circle cx="348.4" cy="92.4" r="2"/><circle cx="347.0" cy="94.6" r="2"/><circle cx="377.2" cy="89.1" r="2"/><circle cx="331.4" cy="78.1" r="2"/><circle cx="389.5" cy="77.0" r="2"/><circle cx="302.5" cy="103.6" r="2"/><circle cx="324.1" cy="86.1" r="2"/><circle cx="289.3" cy="117.6" r="2"/><circle cx="321.3" cy="95.4" r="2"/><circle cx="348.1" cy="69.7" r="2"/><circle cx="311.4" cy="90.7" r="2"/><circle cx="332.2" cy="112.7" r="2"/><circle cx="320.9" cy="126.1" r="2"/><circle cx="309.1" cy="114.3" r="2"/><circle cx="295.1" cy="129.5" r="2"/><circle cx="333.9" cy="84.2" r="2"/><circle cx="335.4" cy="94.5" r="2"/><circle cx="332.6" cy="76.9" r="2"/><circle cx="311.6" cy="89.9" r="2"/><circle cx="300.7" cy="111.2" r="2"/><circle cx="289.1" cy="111.8" r="2"/><circle cx="290.4" cy="121.0" r="2"/><circle cx="380.3" cy="61.9" r="2"/><circle cx="350.6" cy="96.4" r="2"/><circle cx="320.7" cy="98.6" r="2"/><circle cx="296.1" cy="108.2" r="2"/><circle cx="364.3" cy="76.3" r="2"/><circle cx="385.6" cy="60.2" r="2"/><circle cx="303.0" cy="99.2" r="2"/><circle cx="322.7" cy="92.0" r="2"/><circle cx="364.6" cy="84.8" r="2"/><circle cx="342.4" cy="95.7" r="2"/><circle cx="314.3" cy="78.6" r="2"/><circle cx="348.8" cy="77.6" r="2"/><circle cx="293.2" cy="108.2" r="2"/><circle cx="309.4" cy="98.7" r="2"/><circle cx="328.1" cy="105.6" r="2"/><circle cx="327.7" cy="97.3" r="2"/><circle cx="321.5" cy="117.0" r="2"/><circle cx="331.6" cy="106.6" r="2"/><circle cx="350.4" cy="74.2" r="2"/><circle cx="381.2" cy="76.7" r="2"/><circle cx="330.0" cy="83.2" r="2"/><circle cx="364.2" cy="90.3" r="2"/><circle cx="348.1" cy="80.5" r="2"/><circle cx="322.8" cy="86.3" r="2"/><circle cx="334.4" cy="85.9" r="2"/><circle cx="332.9" cy="81.2" r="2"/><circle cx="303.6" cy="110.9" r="2"/><circle cx="369.6" cy="74.0" r="2"/><circle cx="289.0" cy="116.8" r="2"/><circle cx="368.3" cy="64.5" r="2"/><circle cx="329.1" cy="95.3" r="2"/><circle cx="308.3" cy="79.1" r="2"/><circle cx="325.0" cy="99.8" r="2"/><circle cx="346.7" cy="100.1" r="2"/><circle cx="355.0" cy="83.5" r="2"/><circle cx="340.9" cy="82.0" r="2"/><circle cx="362.8" cy="72.8" r="2"/><circle cx="314.7" cy="100.2" r="2"/><circle cx="339.3" cy="80.7" r="2"/><circle cx="283.4" cy="111.3" r="2"/><circle cx="355.7" cy="66.3" r="2"/><circle cx="336.7" cy="106.4" r="2"/><circle cx="319.1" cy="99.4" r="2"/><circle cx="368.0" cy="85.8" r="2"/><circle cx="353.4" cy="77.0" r="2"/><circle cx="333.2" cy="89.4" r="2"/><circle cx="286.9" cy="124.0" r="2"/><circle cx="365.1" cy="85.6" r="2"/><circle cx="315.9" cy="91.9" r="2"/><circle cx="334.3" cy="80.2" r="2"/><circle cx="324.2" cy="120.0" r="2"/><circle cx="342.9" cy="82.5" r="2"/><circle cx="352.0" cy="77.3" r="2"/><circle cx="371.9" cy="90.8" r="2"/><circle cx="301.4" cy="124.7" r="2"/><circle cx="380.7" cy="72.8" r="2"/><circle cx="303.1" cy="102.9" r="2"/><circle cx="340.6" cy="120.6" r="2"/><circle cx="367.9" cy="78.0" r="2"/><circle cx="354.1" cy="87.8" r="2"/><circle cx="302.9" cy="106.2" r="2"/><circle cx="310.2" cy="84.7" r="2"/><circle cx="317.7" cy="81.7" r="2"/><circle cx="330.4" cy="99.0" r="2"/><circle cx="367.6" cy="78.2" r="2"/><circle cx="292.0" cy="111.3" r="2"/><circle cx="346.5" cy="68.0" r="2"/><circle cx="350.9" cy="61.7" r="2"/><circle cx="349.3" cy="78.2" r="2"/><circle cx="346.5" cy="64.0" r="2"/><circle cx="379.1" cy="78.9" r="2"/><circle cx="347.1" cy="100.2" r="2"/><circle cx="358.6" cy="117.3" r="2"/><circle cx="349.5" cy="95.0" r="2"/><circle cx="323.9" cy="88.6" r="2"/><circle cx="323.3" cy="94.8" r="2"/><circle cx="301.9" cy="122.7" r="2"/><circle cx="320.2" cy="107.3" r="2"/><circle cx="310.7" cy="107.3" r="2"/><circle cx="347.3" cy="93.2" r="2"/><circle cx="286.4" cy="138.1" r="2"/><circle cx="340.4" cy="81.3" r="2"/><circle cx="324.3" cy="77.3" r="2"/><circle cx="310.0" cy="127.3" r="2"/><circle cx="307.6" cy="124.2" r="2"/><circle cx="297.0" cy="122.4" r="2"/><circle cx="315.1" cy="85.0" r="2"/><circle cx="332.2" cy="94.8" r="2"/><circle cx="326.5" cy="92.2" r="2"/><circle cx="288.2" cy="117.9" r="2"/><circle cx="323.8" cy="94.4" r="2"/><circle cx="304.3" cy="115.1" r="2"/><circle cx="337.0" cy="84.2" r="2"/><circle cx="389.8" cy="72.3" r="2"/><circle cx="351.4" cy="85.0" r="2"/><circle cx="322.3" cy="93.7" r="2"/><circle cx="288.1" cy="110.6" r="2"/><circle cx="354.5" cy="76.1" r="2"/><circle cx="308.3" cy="109.8" r="2"/><circle cx="333.9" cy="85.9" r="2"/><circle cx="312.7" cy="82.4" r="2"/><circle cx="334.8" cy="103.6" r="2"/><circle cx="310.8" cy="113.7" r="2"/><circle cx="321.4" cy="104.2" r="2"/><circle cx="307.0" cy="83.1" r="2"/><circle cx="359.1" cy="64.1" r="2"/><circle cx="300.2" cy="102.9" r="2"/><circle cx="296.9" cy="100.5" r="2"/><circle cx="323.0" cy="21.2" r="2"/><circle cx="320.0" cy="26.6" r="2"/><circle cx="338.0" cy="27.6" r="2"/><circle cx="341.6" cy="27.4" r="2"/><circle cx="347.0" cy="21.2" r="2"/><circle cx="350.0" cy="21.2" r="2"/><circle cx="363.4" cy="23.6" r="2"/><circle cx="369.8" cy="21.2" r="2"/><circle cx="395.6" cy="21.2" r="2"/><circle cx="410.8" cy="21.2" r="2"/><circle cx="419.6" cy="21.2" r="2"/><circle cx="412.0" cy="28.8" r="2"/><circle cx="391.6" cy="33.2" r="2"/><circle cx="390.4" cy="41.8" r="2"/><circle cx="396.2" cy="46.6" r="2"/><circle cx="357.8" cy="42.2" r="2"/><circle cx="365.8" cy="47.2" r="2"/><circle cx="328.6" cy="49.8" r="2"/><circle cx="340.4" cy="49.2" r="2"/><circle cx="347.6" cy="52.0" r="2"/><circle cx="356.2" cy="53.4" r="2"/><circle cx="365.4" cy="54.6" r="2"/><circle cx="378.6" cy="52.6" r="2"/><circle cx="385.4" cy="51.0" r="2"/><circle cx="387.6" cy="51.0" r="2"/><circle cx="392.2" cy="52.0" r="2"/><circle cx="352.4" cy="58.0" r="2"/><circle cx="362.0" cy="59.0" r="2"/><circle cx="372.0" cy="59.0" r="2"/><circle cx="377.0" cy="59.4" r="2"/><circle cx="387.0" cy="59.6" r="2"/><circle cx="396.2" cy="62.0" r="2"/><circle cx="335.2" cy="62.6" r="2"/><circle cx="345.0" cy="62.0" r="2"/><circle cx="443.6" cy="21.2" r="2"/><circle cx="443.6" cy="37.6" r="2"/><circle cx="245.6" cy="156.6" r="2"/><circle cx="266.4" cy="136.6" r="2"/><circle cx="269.0" cy="143.2" r="2"/><circle cx="286.2" cy="143.2" r="2"/><circle cx="411.0" cy="21.2" r="2"/><circle cx="269.4" cy="112.0" r="2"/><circle cx="274.4" cy="114.6" r="2"/><circle cx="280.4" cy="114.0" r="2"/><circle cx="280.0" cy="107.4" r="2"/><circle cx="285.0" cy="103.0" r="2"/><circle cx="273.6" cy="127.0" r="2"/><circle cx="412.4" cy="68.4" r="2"/><circle cx="443.4" cy="72.8" r="2"/><circle cx="400.8" cy="76.0" r="2"/><circle cx="381.4" cy="86.6" r="2"/><circle cx="378.6" cy="90.6" r="2"/><circle cx="385.6" cy="90.6" r="2"/><circle cx="396.0" cy="62.0" r="2"/><circle cx="389.0" cy="70.0" r="2"/></g>
<line x1="245" y1="140.8" x2="443.6" y2="30.4" stroke="#4c72b0" stroke-width="3.2" stroke-linecap="round"/>
<text x="318.4" y="157.73" font-size="8.7" fill="#262626" text-anchor="start" >Nitrendipine</text>
<text transform="translate(246.33,91) rotate(-90)" font-size="8.7" fill="#262626" text-anchor="middle">Nicardipine</text>
<g fill="#4c72b0" fill-opacity="0.88" stroke="#4c72b0" stroke-opacity="0.9" stroke-width="0.8"><circle cx="531.4" cy="109.9" r="2"/><circle cx="600.6" cy="73.3" r="2"/><circle cx="565.4" cy="95.1" r="2"/><circle cx="587.9" cy="74.2" r="2"/><circle cx="558.5" cy="96.5" r="2"/><circle cx="585.0" cy="91.5" r="2"/><circle cx="547.0" cy="100.5" r="2"/><circle cx="573.0" cy="83.4" r="2"/><circle cx="594.9" cy="73.2" r="2"/><circle cx="575.6" cy="83.1" r="2"/><circle cx="557.5" cy="96.9" r="2"/><circle cx="534.9" cy="118.3" r="2"/><circle cx="580.0" cy="95.9" r="2"/><circle cx="586.4" cy="68.8" r="2"/><circle cx="564.7" cy="94.8" r="2"/><circle cx="546.3" cy="107.5" r="2"/><circle cx="593.5" cy="75.1" r="2"/><circle cx="563.1" cy="93.8" r="2"/><circle cx="586.1" cy="87.1" r="2"/><circle cx="587.6" cy="76.6" r="2"/><circle cx="578.5" cy="85.7" r="2"/><circle cx="548.6" cy="106.4" r="2"/><circle cx="623.8" cy="54.3" r="2"/><circle cx="564.9" cy="101.3" r="2"/><circle cx="546.0" cy="107.3" r="2"/><circle cx="566.1" cy="95.1" r="2"/><circle cx="580.0" cy="84.4" r="2"/><circle cx="553.8" cy="95.6" r="2"/><circle cx="572.1" cy="84.6" r="2"/><circle cx="525.3" cy="114.4" r="2"/><circle cx="565.9" cy="95.4" r="2"/><circle cx="601.9" cy="65.4" r="2"/><circle cx="599.4" cy="73.3" r="2"/><circle cx="583.8" cy="85.6" r="2"/><circle cx="616.6" cy="48.8" r="2"/><circle cx="610.7" cy="75.2" r="2"/><circle cx="633.9" cy="48.9" r="2"/><circle cx="613.0" cy="62.0" r="2"/><circle cx="569.8" cy="98.5" r="2"/><circle cx="583.3" cy="82.9" r="2"/><circle cx="580.4" cy="80.5" r="2"/><circle cx="584.9" cy="95.7" r="2"/><circle cx="581.2" cy="76.9" r="2"/><circle cx="545.8" cy="106.9" r="2"/><circle cx="498.3" cy="144.8" r="2"/><circle cx="549.8" cy="97.9" r="2"/><circle cx="501.1" cy="136.8" r="2"/><circle cx="576.4" cy="89.6" r="2"/><circle cx="574.2" cy="104.2" r="2"/><circle cx="513.7" cy="123.2" r="2"/><circle cx="598.8" cy="71.8" r="2"/><circle cx="605.2" cy="72.1" r="2"/><circle cx="577.5" cy="86.9" r="2"/><circle cx="634.0" cy="40.8" r="2"/><circle cx="530.6" cy="118.4" r="2"/><circle cx="611.3" cy="66.7" r="2"/><circle cx="589.9" cy="85.5" r="2"/><circle cx="589.1" cy="85.2" r="2"/><circle cx="607.6" cy="68.9" r="2"/><circle cx="548.1" cy="108.0" r="2"/><circle cx="552.7" cy="95.8" r="2"/><circle cx="544.2" cy="107.7" r="2"/><circle cx="546.8" cy="108.3" r="2"/><circle cx="570.5" cy="88.5" r="2"/><circle cx="521.7" cy="124.2" r="2"/><circle cx="536.4" cy="108.5" r="2"/><circle cx="594.8" cy="84.8" r="2"/><circle cx="571.4" cy="104.4" r="2"/><circle cx="587.8" cy="77.0" r="2"/><circle cx="506.0" cy="136.7" r="2"/><circle cx="545.8" cy="106.0" r="2"/><circle cx="554.0" cy="110.3" r="2"/><circle cx="575.2" cy="90.7" r="2"/><circle cx="552.9" cy="103.3" r="2"/><circle cx="607.6" cy="64.8" r="2"/><circle cx="571.9" cy="90.9" r="2"/><circle cx="574.6" cy="81.8" r="2"/><circle cx="574.5" cy="92.8" r="2"/><circle cx="599.5" cy="67.0" r="2"/><circle cx="557.0" cy="103.5" r="2"/><circle cx="614.4" cy="62.6" r="2"/><circle cx="590.6" cy="84.8" r="2"/><circle cx="579.5" cy="84.9" r="2"/><circle cx="575.5" cy="94.3" r="2"/><circle cx="592.7" cy="70.2" r="2"/><circle cx="610.6" cy="68.2" r="2"/><circle cx="608.0" cy="64.5" r="2"/><circle cx="587.5" cy="80.9" r="2"/><circle cx="605.6" cy="68.1" r="2"/><circle cx="578.3" cy="91.9" r="2"/><circle cx="619.1" cy="45.5" r="2"/><circle cx="573.0" cy="91.4" r="2"/><circle cx="499.3" cy="128.9" r="2"/><circle cx="622.2" cy="64.4" r="2"/><circle cx="577.9" cy="73.3" r="2"/><circle cx="531.8" cy="110.3" r="2"/><circle cx="566.9" cy="82.6" r="2"/><circle cx="542.2" cy="120.6" r="2"/><circle cx="591.9" cy="77.5" r="2"/><circle cx="517.5" cy="122.9" r="2"/><circle cx="593.7" cy="63.9" r="2"/><circle cx="559.6" cy="96.1" r="2"/><circle cx="536.1" cy="112.8" r="2"/><circle cx="576.4" cy="84.8" r="2"/><circle cx="561.5" cy="97.1" r="2"/><circle cx="559.0" cy="96.2" r="2"/><circle cx="589.4" cy="90.8" r="2"/><circle cx="634.2" cy="50.8" r="2"/><circle cx="505.3" cy="135.9" r="2"/><circle cx="616.2" cy="56.5" r="2"/><circle cx="553.5" cy="97.5" r="2"/><circle cx="589.7" cy="71.0" r="2"/><circle cx="567.2" cy="87.3" r="2"/><circle cx="613.8" cy="61.5" r="2"/><circle cx="592.9" cy="73.3" r="2"/><circle cx="552.7" cy="115.7" r="2"/><circle cx="599.6" cy="56.2" r="2"/><circle cx="555.6" cy="103.3" r="2"/><circle cx="509.6" cy="136.3" r="2"/><circle cx="561.4" cy="92.9" r="2"/><circle cx="552.1" cy="106.2" r="2"/><circle cx="586.2" cy="91.2" r="2"/><circle cx="517.9" cy="120.2" r="2"/><circle cx="525.3" cy="111.0" r="2"/><circle cx="556.0" cy="107.0" r="2"/><circle cx="555.3" cy="111.1" r="2"/><circle cx="576.6" cy="84.8" r="2"/><circle cx="614.4" cy="47.3" r="2"/><circle cx="556.9" cy="109.5" r="2"/><circle cx="591.7" cy="75.6" r="2"/><circle cx="595.7" cy="81.5" r="2"/><circle cx="535.0" cy="114.5" r="2"/><circle cx="582.2" cy="80.8" r="2"/><circle cx="540.1" cy="108.4" r="2"/><circle cx="612.3" cy="72.7" r="2"/><circle cx="590.4" cy="87.1" r="2"/><circle cx="574.6" cy="74.4" r="2"/><circle cx="525.8" cy="114.8" r="2"/><circle cx="578.2" cy="97.5" r="2"/><circle cx="546.4" cy="104.8" r="2"/><circle cx="599.4" cy="62.9" r="2"/><circle cx="569.7" cy="91.6" r="2"/><circle cx="544.8" cy="107.5" r="2"/><circle cx="607.3" cy="65.8" r="2"/><circle cx="600.0" cy="68.2" r="2"/><circle cx="552.6" cy="101.0" r="2"/><circle cx="615.8" cy="57.8" r="2"/><circle cx="563.3" cy="98.0" r="2"/><circle cx="562.9" cy="90.9" r="2"/><circle cx="578.5" cy="83.8" r="2"/><circle cx="546.9" cy="105.9" r="2"/><circle cx="558.1" cy="107.8" r="2"/><circle cx="568.2" cy="95.0" r="2"/><circle cx="629.1" cy="51.2" r="2"/><circle cx="628.0" cy="56.1" r="2"/><circle cx="564.7" cy="97.6" r="2"/><circle cx="632.0" cy="57.1" r="2"/><circle cx="572.4" cy="93.0" r="2"/><circle cx="587.7" cy="91.2" r="2"/><circle cx="605.8" cy="76.2" r="2"/><circle cx="584.5" cy="81.4" r="2"/><circle cx="582.8" cy="88.6" r="2"/><circle cx="530.9" cy="120.9" r="2"/><circle cx="621.0" cy="56.7" r="2"/><circle cx="559.2" cy="89.0" r="2"/><circle cx="563.0" cy="84.1" r="2"/><circle cx="610.0" cy="69.6" r="2"/><circle cx="603.5" cy="74.2" r="2"/><circle cx="602.8" cy="61.1" r="2"/><circle cx="609.2" cy="71.9" r="2"/><circle cx="634.9" cy="44.6" r="2"/><circle cx="572.3" cy="92.3" r="2"/><circle cx="607.8" cy="68.9" r="2"/><circle cx="547.2" cy="101.4" r="2"/><circle cx="561.3" cy="93.4" r="2"/><circle cx="612.0" cy="49.8" r="2"/><circle cx="588.1" cy="73.3" r="2"/><circle cx="526.0" cy="109.0" r="2"/><circle cx="587.0" cy="82.9" r="2"/><circle cx="567.4" cy="93.5" r="2"/><circle cx="544.5" cy="114.3" r="2"/><circle cx="589.6" cy="80.6" r="2"/><circle cx="559.4" cy="94.3" r="2"/><circle cx="517.5" cy="128.7" r="2"/><circle cx="534.0" cy="112.9" r="2"/><circle cx="637.7" cy="50.1" r="2"/><circle cx="519.5" cy="127.2" r="2"/><circle cx="582.0" cy="76.9" r="2"/><circle cx="596.0" cy="74.0" r="2"/><circle cx="597.0" cy="73.7" r="2"/><circle cx="529.9" cy="116.2" r="2"/><circle cx="562.4" cy="102.3" r="2"/><circle cx="579.1" cy="96.5" r="2"/><circle cx="602.8" cy="67.1" r="2"/><circle cx="550.8" cy="101.9" r="2"/><circle cx="532.1" cy="102.1" r="2"/><circle cx="610.1" cy="63.8" r="2"/><circle cx="613.8" cy="59.3" r="2"/><circle cx="587.3" cy="65.8" r="2"/><circle cx="552.1" cy="105.2" r="2"/><circle cx="588.6" cy="82.8" r="2"/><circle cx="577.9" cy="81.3" r="2"/><circle cx="604.2" cy="66.1" r="2"/><circle cx="529.0" cy="112.5" r="2"/><circle cx="578.2" cy="90.9" r="2"/><circle cx="568.3" cy="82.7" r="2"/><circle cx="534.1" cy="113.3" r="2"/><circle cx="581.8" cy="96.2" r="2"/><circle cx="575.3" cy="88.2" r="2"/><circle cx="559.2" cy="101.6" r="2"/><circle cx="588.3" cy="78.2" r="2"/><circle cx="522.9" cy="115.2" r="2"/><circle cx="572.1" cy="89.8" r="2"/><circle cx="589.5" cy="81.0" r="2"/><circle cx="584.2" cy="75.2" r="2"/><circle cx="612.8" cy="65.0" r="2"/><circle cx="530.8" cy="125.7" r="2"/><circle cx="519.7" cy="131.9" r="2"/><circle cx="582.6" cy="72.7" r="2"/><circle cx="590.4" cy="71.4" r="2"/><circle cx="596.2" cy="80.8" r="2"/><circle cx="542.5" cy="113.7" r="2"/><circle cx="603.0" cy="73.9" r="2"/><circle cx="543.6" cy="103.3" r="2"/><circle cx="520.5" cy="116.8" r="2"/><circle cx="585.7" cy="81.5" r="2"/><circle cx="599.7" cy="66.0" r="2"/><circle cx="594.3" cy="76.1" r="2"/><circle cx="639.2" cy="49.3" r="2"/><circle cx="584.2" cy="83.4" r="2"/><circle cx="617.8" cy="52.7" r="2"/><circle cx="537.0" cy="99.7" r="2"/><circle cx="523.9" cy="120.5" r="2"/><circle cx="625.4" cy="55.5" r="2"/><circle cx="627.1" cy="51.6" r="2"/><circle cx="592.4" cy="73.6" r="2"/><circle cx="582.1" cy="78.8" r="2"/><circle cx="580.0" cy="89.4" r="2"/><circle cx="549.2" cy="104.9" r="2"/><circle cx="629.4" cy="52.5" r="2"/><circle cx="597.7" cy="66.5" r="2"/><circle cx="592.2" cy="72.5" r="2"/><circle cx="587.5" cy="80.7" r="2"/><circle cx="611.7" cy="57.0" r="2"/><circle cx="592.2" cy="68.4" r="2"/><circle cx="600.8" cy="68.6" r="2"/><circle cx="531.9" cy="124.6" r="2"/><circle cx="592.4" cy="77.7" r="2"/><circle cx="555.3" cy="100.3" r="2"/><circle cx="569.4" cy="89.8" r="2"/><circle cx="606.1" cy="58.2" r="2"/><circle cx="608.5" cy="61.9" r="2"/><circle cx="596.5" cy="83.0" r="2"/><circle cx="515.8" cy="129.7" r="2"/><circle cx="592.1" cy="81.4" r="2"/><circle cx="531.4" cy="121.7" r="2"/><circle cx="544.3" cy="108.5" r="2"/><circle cx="593.7" cy="74.2" r="2"/><circle cx="563.4" cy="96.6" r="2"/><circle cx="603.1" cy="73.6" r="2"/><circle cx="602.0" cy="73.2" r="2"/><circle cx="600.0" cy="72.3" r="2"/><circle cx="541.8" cy="105.2" r="2"/><circle cx="550.9" cy="102.5" r="2"/><circle cx="535.7" cy="108.2" r="2"/><circle cx="554.8" cy="108.0" r="2"/><circle cx="534.7" cy="101.3" r="2"/><circle cx="550.3" cy="103.1" r="2"/><circle cx="566.5" cy="109.2" r="2"/><circle cx="538.0" cy="110.5" r="2"/><circle cx="522.9" cy="115.4" r="2"/><circle cx="525.0" cy="121.3" r="2"/><circle cx="590.3" cy="86.2" r="2"/><circle cx="576.2" cy="86.2" r="2"/><circle cx="610.9" cy="68.0" r="2"/><circle cx="611.6" cy="64.2" r="2"/><circle cx="561.7" cy="94.5" r="2"/><circle cx="598.1" cy="93.1" r="2"/><circle cx="522.1" cy="123.8" r="2"/><circle cx="617.0" cy="56.8" r="2"/><circle cx="566.3" cy="96.3" r="2"/><circle cx="532.1" cy="119.3" r="2"/><circle cx="587.7" cy="84.6" r="2"/><circle cx="506.7" cy="134.6" r="2"/><circle cx="545.9" cy="98.1" r="2"/><circle cx="601.0" cy="74.2" r="2"/><circle cx="576.7" cy="84.9" r="2"/><circle cx="556.3" cy="98.6" r="2"/><circle cx="608.2" cy="56.2" r="2"/><circle cx="536.6" cy="109.9" r="2"/><circle cx="584.2" cy="77.1" r="2"/><circle cx="556.1" cy="100.4" r="2"/><circle cx="543.5" cy="99.6" r="2"/><circle cx="590.7" cy="77.9" r="2"/><circle cx="538.3" cy="113.4" r="2"/><circle cx="553.0" cy="98.7" r="2"/><circle cx="534.6" cy="120.9" r="2"/><circle cx="595.8" cy="57.7" r="2"/><circle cx="530.8" cy="115.3" r="2"/><circle cx="525.7" cy="110.2" r="2"/><circle cx="579.7" cy="82.1" r="2"/><circle cx="598.4" cy="77.9" r="2"/><circle cx="528.1" cy="115.2" r="2"/><circle cx="616.6" cy="61.1" r="2"/><circle cx="545.3" cy="102.4" r="2"/><circle cx="578.7" cy="98.2" r="2"/><circle cx="587.7" cy="85.5" r="2"/><circle cx="595.4" cy="81.7" r="2"/><circle cx="509.3" cy="123.3" r="2"/><circle cx="632.3" cy="42.6" r="2"/><circle cx="594.2" cy="82.2" r="2"/><circle cx="558.7" cy="97.7" r="2"/><circle cx="537.1" cy="111.7" r="2"/><circle cx="513.0" cy="131.6" r="2"/><circle cx="525.0" cy="113.3" r="2"/><circle cx="593.6" cy="80.6" r="2"/><circle cx="561.7" cy="97.0" r="2"/><circle cx="533.3" cy="119.0" r="2"/><circle cx="555.0" cy="97.0" r="2"/><circle cx="630.3" cy="54.4" r="2"/><circle cx="562.1" cy="92.1" r="2"/><circle cx="553.0" cy="109.0" r="2"/><circle cx="622.6" cy="63.6" r="2"/><circle cx="590.6" cy="83.5" r="2"/><circle cx="575.6" cy="91.0" r="2"/><circle cx="552.1" cy="107.4" r="2"/><circle cx="518.1" cy="108.4" r="2"/><circle cx="531.9" cy="122.3" r="2"/><circle cx="556.7" cy="98.5" r="2"/><circle cx="566.1" cy="94.6" r="2"/><circle cx="586.8" cy="78.3" r="2"/><circle cx="593.9" cy="66.4" r="2"/><circle cx="582.0" cy="79.8" r="2"/><circle cx="581.9" cy="87.7" r="2"/><circle cx="537.7" cy="122.1" r="2"/><circle cx="555.2" cy="95.4" r="2"/><circle cx="539.7" cy="121.1" r="2"/><circle cx="550.5" cy="98.7" r="2"/><circle cx="564.1" cy="108.8" r="2"/><circle cx="529.2" cy="118.9" r="2"/><circle cx="534.0" cy="109.7" r="2"/><circle cx="570.4" cy="97.5" r="2"/><circle cx="578.2" cy="96.9" r="2"/><circle cx="550.4" cy="95.1" r="2"/><circle cx="591.9" cy="86.9" r="2"/><circle cx="566.1" cy="92.1" r="2"/><circle cx="537.3" cy="122.9" r="2"/><circle cx="575.5" cy="85.2" r="2"/><circle cx="549.7" cy="108.2" r="2"/><circle cx="616.0" cy="66.7" r="2"/><circle cx="623.6" cy="69.2" r="2"/><circle cx="627.9" cy="63.9" r="2"/><circle cx="544.4" cy="113.0" r="2"/><circle cx="578.2" cy="82.5" r="2"/><circle cx="564.9" cy="92.9" r="2"/><circle cx="565.7" cy="88.8" r="2"/><circle cx="595.7" cy="72.5" r="2"/><circle cx="575.8" cy="70.9" r="2"/><circle cx="567.6" cy="94.1" r="2"/><circle cx="620.2" cy="57.7" r="2"/><circle cx="548.0" cy="122.8" r="2"/><circle cx="536.4" cy="118.7" r="2"/><circle cx="602.6" cy="66.5" r="2"/><circle cx="599.3" cy="75.5" r="2"/><circle cx="613.4" cy="54.4" r="2"/><circle cx="535.4" cy="110.6" r="2"/><circle cx="612.9" cy="50.6" r="2"/><circle cx="591.4" cy="86.4" r="2"/><circle cx="637.5" cy="50.2" r="2"/><circle cx="529.1" cy="111.1" r="2"/><circle cx="581.9" cy="83.1" r="2"/><circle cx="564.0" cy="101.5" r="2"/><circle cx="516.8" cy="130.1" r="2"/><circle cx="548.3" cy="108.4" r="2"/><circle cx="614.6" cy="56.0" r="2"/><circle cx="557.1" cy="95.8" r="2"/><circle cx="548.0" cy="106.7" r="2"/><circle cx="605.3" cy="73.8" r="2"/><circle cx="609.6" cy="59.5" r="2"/><circle cx="609.5" cy="57.7" r="2"/><circle cx="545.6" cy="115.1" r="2"/><circle cx="571.9" cy="84.1" r="2"/><circle cx="611.1" cy="70.9" r="2"/><circle cx="550.4" cy="106.1" r="2"/><circle cx="547.0" cy="112.4" r="2"/><circle cx="603.8" cy="80.1" r="2"/><circle cx="630.2" cy="55.6" r="2"/><circle cx="532.5" cy="121.4" r="2"/><circle cx="521.8" cy="119.1" r="2"/><circle cx="537.6" cy="117.2" r="2"/><circle cx="569.0" cy="102.0" r="2"/><circle cx="596.2" cy="82.9" r="2"/><circle cx="568.7" cy="107.3" r="2"/><circle cx="548.8" cy="107.6" r="2"/><circle cx="579.5" cy="86.3" r="2"/><circle cx="539.4" cy="118.4" r="2"/><circle cx="572.3" cy="90.0" r="2"/><circle cx="550.9" cy="103.7" r="2"/><circle cx="603.4" cy="75.5" r="2"/><circle cx="543.9" cy="101.8" r="2"/><circle cx="538.1" cy="116.0" r="2"/><circle cx="558.2" cy="90.0" r="2"/><circle cx="514.8" cy="135.4" r="2"/><circle cx="547.7" cy="99.6" r="2"/><circle cx="547.4" cy="111.9" r="2"/><circle cx="605.8" cy="57.1" r="2"/><circle cx="558.6" cy="96.1" r="2"/><circle cx="545.5" cy="115.4" r="2"/><circle cx="525.7" cy="115.7" r="2"/><circle cx="531.6" cy="117.4" r="2"/><circle cx="571.6" cy="87.2" r="2"/><circle cx="566.3" cy="78.9" r="2"/><circle cx="614.8" cy="63.4" r="2"/><circle cx="551.4" cy="106.6" r="2"/><circle cx="612.1" cy="56.0" r="2"/><circle cx="583.3" cy="86.2" r="2"/><circle cx="573.8" cy="83.6" r="2"/><circle cx="501.7" cy="130.5" r="2"/><circle cx="527.6" cy="119.8" r="2"/><circle cx="600.7" cy="66.4" r="2"/><circle cx="624.3" cy="70.0" r="2"/><circle cx="581.4" cy="73.6" r="2"/><circle cx="601.5" cy="75.2" r="2"/><circle cx="559.3" cy="104.9" r="2"/><circle cx="560.6" cy="84.8" r="2"/><circle cx="550.1" cy="93.4" r="2"/><circle cx="609.1" cy="68.9" r="2"/><circle cx="586.3" cy="77.3" r="2"/><circle cx="565.6" cy="96.8" r="2"/><circle cx="562.2" cy="104.0" r="2"/><circle cx="594.0" cy="72.9" r="2"/><circle cx="585.6" cy="74.0" r="2"/><circle cx="544.0" cy="91.0" r="2"/><circle cx="635.8" cy="48.8" r="2"/><circle cx="583.3" cy="76.5" r="2"/><circle cx="574.4" cy="90.5" r="2"/><circle cx="627.2" cy="54.7" r="2"/><circle cx="610.9" cy="55.1" r="2"/><circle cx="570.8" cy="102.0" r="2"/><circle cx="593.3" cy="82.9" r="2"/><circle cx="535.5" cy="119.9" r="2"/><circle cx="550.9" cy="96.4" r="2"/><circle cx="617.9" cy="55.8" r="2"/><circle cx="505.7" cy="131.7" r="2"/><circle cx="598.5" cy="65.0" r="2"/><circle cx="544.1" cy="111.5" r="2"/><circle cx="538.8" cy="113.7" r="2"/><circle cx="567.0" cy="95.8" r="2"/><circle cx="583.6" cy="79.0" r="2"/><circle cx="596.0" cy="82.4" r="2"/><circle cx="637.8" cy="47.3" r="2"/><circle cx="586.9" cy="62.3" r="2"/><circle cx="605.7" cy="63.4" r="2"/><circle cx="552.5" cy="102.7" r="2"/><circle cx="599.7" cy="77.8" r="2"/><circle cx="579.5" cy="83.1" r="2"/><circle cx="557.3" cy="98.2" r="2"/><circle cx="570.5" cy="86.7" r="2"/><circle cx="571.8" cy="94.5" r="2"/><circle cx="580.9" cy="81.2" r="2"/><circle cx="588.5" cy="75.1" r="2"/><circle cx="555.7" cy="96.1" r="2"/><circle cx="547.3" cy="110.1" r="2"/><circle cx="600.9" cy="67.3" r="2"/><circle cx="512.9" cy="118.6" r="2"/><circle cx="551.7" cy="107.6" r="2"/><circle cx="629.9" cy="46.8" r="2"/><circle cx="549.1" cy="107.8" r="2"/><circle cx="598.8" cy="80.0" r="2"/><circle cx="514.6" cy="135.2" r="2"/><circle cx="625.7" cy="45.8" r="2"/><circle cx="630.1" cy="62.2" r="2"/><circle cx="607.0" cy="69.5" r="2"/><circle cx="566.0" cy="103.1" r="2"/><circle cx="586.9" cy="78.0" r="2"/><circle cx="541.7" cy="97.0" r="2"/><circle cx="603.1" cy="79.2" r="2"/><circle cx="533.7" cy="116.2" r="2"/><circle cx="564.1" cy="96.2" r="2"/><circle cx="609.9" cy="65.1" r="2"/><circle cx="533.9" cy="119.7" r="2"/><circle cx="560.9" cy="100.9" r="2"/><circle cx="579.9" cy="74.4" r="2"/><circle cx="525.7" cy="128.0" r="2"/><circle cx="615.9" cy="57.3" r="2"/><circle cx="586.3" cy="77.5" r="2"/><circle cx="519.4" cy="136.4" r="2"/><circle cx="572.3" cy="95.8" r="2"/><circle cx="546.1" cy="105.1" r="2"/><circle cx="550.3" cy="92.4" r="2"/><circle cx="576.8" cy="87.9" r="2"/><circle cx="548.5" cy="109.3" r="2"/><circle cx="608.7" cy="65.0" r="2"/><circle cx="548.6" cy="97.5" r="2"/><circle cx="609.3" cy="60.0" r="2"/><circle cx="572.4" cy="81.6" r="2"/><circle cx="604.8" cy="69.5" r="2"/><circle cx="554.5" cy="107.0" r="2"/><circle cx="555.8" cy="107.5" r="2"/><circle cx="532.5" cy="111.7" r="2"/><circle cx="594.8" cy="76.3" r="2"/><circle cx="607.8" cy="69.8" r="2"/><circle cx="620.5" cy="56.7" r="2"/><circle cx="583.0" cy="96.5" r="2"/><circle cx="566.4" cy="95.1" r="2"/><circle cx="588.0" cy="85.1" r="2"/><circle cx="573.0" cy="86.5" r="2"/><circle cx="626.7" cy="53.8" r="2"/><circle cx="608.0" cy="54.9" r="2"/><circle cx="543.9" cy="108.7" r="2"/><circle cx="549.2" cy="113.0" r="2"/><circle cx="623.2" cy="69.5" r="2"/><circle cx="585.1" cy="89.1" r="2"/><circle cx="565.7" cy="98.7" r="2"/><circle cx="616.7" cy="60.5" r="2"/><circle cx="560.0" cy="94.1" r="2"/><circle cx="563.9" cy="94.4" r="2"/><circle cx="557.4" cy="103.8" r="2"/><circle cx="503.4" cy="130.8" r="2"/><circle cx="605.1" cy="74.0" r="2"/><circle cx="530.5" cy="111.4" r="2"/><circle cx="553.5" cy="90.8" r="2"/><circle cx="547.2" cy="100.0" r="2"/><circle cx="600.2" cy="60.4" r="2"/><circle cx="571.5" cy="81.4" r="2"/><circle cx="574.6" cy="95.7" r="2"/><circle cx="513.5" cy="127.8" r="2"/><circle cx="570.9" cy="92.2" r="2"/><circle cx="520.9" cy="131.7" r="2"/><circle cx="585.1" cy="89.5" r="2"/><circle cx="587.2" cy="76.6" r="2"/><circle cx="573.4" cy="97.8" r="2"/><circle cx="593.0" cy="76.0" r="2"/><circle cx="595.4" cy="77.3" r="2"/><circle cx="579.1" cy="76.0" r="2"/><circle cx="567.1" cy="88.2" r="2"/><circle cx="608.8" cy="64.8" r="2"/><circle cx="613.7" cy="66.2" r="2"/><circle cx="527.2" cy="117.6" r="2"/><circle cx="612.0" cy="62.5" r="2"/><circle cx="592.5" cy="82.6" r="2"/><circle cx="608.6" cy="74.8" r="2"/><circle cx="590.8" cy="82.5" r="2"/><circle cx="529.2" cy="126.9" r="2"/><circle cx="531.8" cy="114.3" r="2"/><circle cx="639.7" cy="42.8" r="2"/><circle cx="583.1" cy="84.7" r="2"/><circle cx="523.0" cy="120.8" r="2"/><circle cx="586.5" cy="77.0" r="2"/><circle cx="561.0" cy="108.1" r="2"/><circle cx="507.6" cy="131.7" r="2"/><circle cx="516.3" cy="130.4" r="2"/><circle cx="583.8" cy="94.1" r="2"/><circle cx="572.3" cy="90.4" r="2"/><circle cx="565.0" cy="102.7" r="2"/><circle cx="584.2" cy="79.0" r="2"/><circle cx="595.6" cy="71.1" r="2"/><circle cx="498.3" cy="134.8" r="2"/><circle cx="563.2" cy="95.0" r="2"/><circle cx="544.2" cy="120.5" r="2"/><circle cx="529.6" cy="110.8" r="2"/><circle cx="554.3" cy="112.5" r="2"/><circle cx="569.6" cy="85.1" r="2"/><circle cx="564.4" cy="93.6" r="2"/><circle cx="521.6" cy="129.1" r="2"/><circle cx="556.6" cy="104.4" r="2"/><circle cx="536.0" cy="103.3" r="2"/><circle cx="513.3" cy="131.6" r="2"/><circle cx="583.9" cy="75.4" r="2"/><circle cx="595.5" cy="91.1" r="2"/><circle cx="590.7" cy="76.2" r="2"/><circle cx="533.7" cy="116.9" r="2"/><circle cx="609.9" cy="57.3" r="2"/><circle cx="545.7" cy="104.5" r="2"/><circle cx="533.1" cy="107.6" r="2"/><circle cx="552.1" cy="109.7" r="2"/><circle cx="570.1" cy="89.6" r="2"/><circle cx="599.7" cy="75.2" r="2"/><circle cx="596.5" cy="69.3" r="2"/><circle cx="573.2" cy="86.0" r="2"/><circle cx="607.6" cy="74.6" r="2"/><circle cx="576.9" cy="80.4" r="2"/><circle cx="606.3" cy="55.5" r="2"/><circle cx="523.5" cy="125.1" r="2"/><circle cx="517.3" cy="119.1" r="2"/><circle cx="601.9" cy="67.2" r="2"/><circle cx="524.0" cy="128.1" r="2"/><circle cx="563.1" cy="90.6" r="2"/><circle cx="570.5" cy="96.8" r="2"/><circle cx="556.4" cy="96.0" r="2"/><circle cx="557.7" cy="109.3" r="2"/><circle cx="624.1" cy="63.8" r="2"/><circle cx="605.8" cy="66.1" r="2"/><circle cx="574.8" cy="89.4" r="2"/><circle cx="573.3" cy="96.6" r="2"/><circle cx="600.1" cy="61.8" r="2"/><circle cx="639.8" cy="50.7" r="2"/><circle cx="531.2" cy="108.7" r="2"/><circle cx="577.2" cy="81.0" r="2"/><circle cx="567.3" cy="81.6" r="2"/><circle cx="594.1" cy="88.9" r="2"/><circle cx="579.7" cy="85.3" r="2"/><circle cx="597.7" cy="74.4" r="2"/><circle cx="558.8" cy="94.4" r="2"/><circle cx="575.8" cy="94.5" r="2"/><circle cx="549.9" cy="91.1" r="2"/><circle cx="550.1" cy="104.8" r="2"/><circle cx="568.9" cy="106.4" r="2"/><circle cx="568.9" cy="89.6" r="2"/><circle cx="531.8" cy="117.0" r="2"/><circle cx="630.5" cy="55.3" r="2"/><circle cx="569.1" cy="86.7" r="2"/><circle cx="524.2" cy="122.1" r="2"/><circle cx="613.7" cy="68.5" r="2"/><circle cx="547.1" cy="108.0" r="2"/><circle cx="592.3" cy="78.9" r="2"/><circle cx="573.4" cy="86.8" r="2"/><circle cx="583.0" cy="84.7" r="2"/><circle cx="580.2" cy="85.0" r="2"/><circle cx="553.3" cy="112.0" r="2"/><circle cx="575.5" cy="92.4" r="2"/><circle cx="576.4" cy="91.8" r="2"/><circle cx="589.7" cy="83.2" r="2"/><circle cx="536.1" cy="108.0" r="2"/><circle cx="524.7" cy="108.7" r="2"/><circle cx="560.6" cy="103.7" r="2"/><circle cx="593.3" cy="72.8" r="2"/><circle cx="576.7" cy="88.3" r="2"/><circle cx="591.1" cy="85.2" r="2"/><circle cx="596.9" cy="73.3" r="2"/><circle cx="616.5" cy="59.7" r="2"/><circle cx="589.7" cy="74.7" r="2"/><circle cx="579.2" cy="95.8" r="2"/><circle cx="580.3" cy="91.4" r="2"/><circle cx="622.7" cy="55.6" r="2"/><circle cx="603.4" cy="60.0" r="2"/><circle cx="537.9" cy="107.7" r="2"/><circle cx="551.1" cy="107.8" r="2"/><circle cx="585.9" cy="76.1" r="2"/><circle cx="551.6" cy="109.5" r="2"/><circle cx="560.4" cy="100.1" r="2"/><circle cx="539.6" cy="113.6" r="2"/><circle cx="564.6" cy="99.2" r="2"/><circle cx="589.3" cy="81.8" r="2"/><circle cx="609.8" cy="59.2" r="2"/><circle cx="574.3" cy="86.4" r="2"/><circle cx="571.2" cy="82.7" r="2"/><circle cx="610.1" cy="71.5" r="2"/><circle cx="591.9" cy="75.7" r="2"/><circle cx="556.0" cy="95.4" r="2"/><circle cx="568.4" cy="95.9" r="2"/><circle cx="580.4" cy="91.0" r="2"/><circle cx="524.3" cy="122.2" r="2"/><circle cx="565.0" cy="88.0" r="2"/><circle cx="600.1" cy="72.4" r="2"/><circle cx="579.0" cy="86.5" r="2"/><circle cx="561.6" cy="101.8" r="2"/><circle cx="598.6" cy="79.2" r="2"/><circle cx="577.3" cy="80.1" r="2"/><circle cx="532.9" cy="124.4" r="2"/><circle cx="608.1" cy="62.8" r="2"/><circle cx="599.0" cy="65.3" r="2"/><circle cx="595.5" cy="73.2" r="2"/><circle cx="610.3" cy="54.9" r="2"/><circle cx="613.6" cy="62.3" r="2"/><circle cx="573.2" cy="91.1" r="2"/><circle cx="525.1" cy="120.0" r="2"/><circle cx="524.1" cy="125.5" r="2"/><circle cx="622.6" cy="54.2" r="2"/><circle cx="599.6" cy="71.6" r="2"/><circle cx="577.7" cy="76.9" r="2"/><circle cx="558.4" cy="99.4" r="2"/><circle cx="575.1" cy="82.4" r="2"/><circle cx="574.9" cy="85.2" r="2"/><circle cx="561.9" cy="96.2" r="2"/><circle cx="548.8" cy="106.8" r="2"/><circle cx="582.2" cy="73.0" r="2"/><circle cx="552.2" cy="101.3" r="2"/><circle cx="527.1" cy="123.1" r="2"/><circle cx="547.9" cy="108.5" r="2"/><circle cx="599.9" cy="77.2" r="2"/><circle cx="601.3" cy="78.9" r="2"/><circle cx="566.1" cy="97.2" r="2"/><circle cx="575.9" cy="87.3" r="2"/><circle cx="563.0" cy="89.3" r="2"/><circle cx="534.1" cy="109.2" r="2"/><circle cx="620.9" cy="54.4" r="2"/><circle cx="587.4" cy="81.5" r="2"/><circle cx="546.8" cy="106.9" r="2"/><circle cx="569.0" cy="91.0" r="2"/><circle cx="605.8" cy="71.6" r="2"/><circle cx="565.2" cy="95.9" r="2"/><circle cx="524.0" cy="124.0" r="2"/><circle cx="539.8" cy="113.5" r="2"/><circle cx="577.6" cy="82.7" r="2"/><circle cx="586.4" cy="73.7" r="2"/><circle cx="570.6" cy="94.2" r="2"/><circle cx="610.1" cy="67.3" r="2"/><circle cx="609.7" cy="63.4" r="2"/><circle cx="585.6" cy="78.2" r="2"/><circle cx="575.0" cy="102.9" r="2"/><circle cx="564.9" cy="89.8" r="2"/><circle cx="593.8" cy="74.0" r="2"/><circle cx="607.1" cy="68.3" r="2"/><circle cx="576.2" cy="79.7" r="2"/><circle cx="590.2" cy="78.6" r="2"/><circle cx="562.3" cy="108.2" r="2"/><circle cx="523.2" cy="128.7" r="2"/><circle cx="538.0" cy="116.9" r="2"/><circle cx="601.6" cy="74.1" r="2"/><circle cx="590.1" cy="78.7" r="2"/><circle cx="631.2" cy="56.7" r="2"/><circle cx="576.0" cy="86.3" r="2"/><circle cx="605.1" cy="65.2" r="2"/><circle cx="621.6" cy="57.6" r="2"/><circle cx="609.8" cy="70.7" r="2"/><circle cx="552.1" cy="105.5" r="2"/><circle cx="567.4" cy="97.5" r="2"/><circle cx="578.7" cy="72.4" r="2"/><circle cx="538.5" cy="120.2" r="2"/><circle cx="591.1" cy="92.5" r="2"/><circle cx="610.9" cy="72.8" r="2"/><circle cx="556.7" cy="98.2" r="2"/><circle cx="563.5" cy="97.5" r="2"/><circle cx="566.7" cy="87.2" r="2"/><circle cx="565.4" cy="99.1" r="2"/><circle cx="548.5" cy="102.3" r="2"/><circle cx="589.0" cy="84.9" r="2"/><circle cx="574.7" cy="97.1" r="2"/><circle cx="633.8" cy="35.5" r="2"/><circle cx="595.9" cy="76.0" r="2"/><circle cx="593.4" cy="71.2" r="2"/><circle cx="566.0" cy="84.9" r="2"/><circle cx="523.1" cy="118.7" r="2"/><circle cx="570.8" cy="89.4" r="2"/><circle cx="543.4" cy="115.9" r="2"/><circle cx="608.3" cy="55.9" r="2"/><circle cx="572.9" cy="96.3" r="2"/><circle cx="634.0" cy="61.8" r="2"/><circle cx="600.5" cy="74.9" r="2"/><circle cx="604.1" cy="72.2" r="2"/><circle cx="582.3" cy="83.1" r="2"/><circle cx="581.5" cy="76.0" r="2"/><circle cx="597.5" cy="76.5" r="2"/><circle cx="607.2" cy="69.0" r="2"/><circle cx="548.4" cy="110.5" r="2"/><circle cx="591.7" cy="93.6" r="2"/><circle cx="570.8" cy="93.6" r="2"/><circle cx="564.8" cy="105.0" r="2"/><circle cx="549.1" cy="96.6" r="2"/><circle cx="521.9" cy="116.1" r="2"/><circle cx="616.8" cy="57.7" r="2"/><circle cx="576.2" cy="83.0" r="2"/><circle cx="584.8" cy="86.0" r="2"/><circle cx="542.0" cy="119.9" r="2"/><circle cx="612.0" cy="68.4" r="2"/><circle cx="596.5" cy="71.2" r="2"/><circle cx="588.4" cy="83.1" r="2"/><circle cx="591.3" cy="82.4" r="2"/><circle cx="573.2" cy="82.3" r="2"/><circle cx="631.3" cy="52.7" r="2"/><circle cx="596.2" cy="78.5" r="2"/><circle cx="586.5" cy="81.8" r="2"/><circle cx="619.0" cy="68.9" r="2"/><circle cx="606.4" cy="75.0" r="2"/><circle cx="590.7" cy="72.2" r="2"/><circle cx="585.9" cy="81.6" r="2"/><circle cx="637.3" cy="41.0" r="2"/><circle cx="592.4" cy="80.2" r="2"/><circle cx="570.9" cy="85.2" r="2"/><circle cx="543.2" cy="115.2" r="2"/><circle cx="561.7" cy="99.4" r="2"/><circle cx="536.3" cy="120.2" r="2"/><circle cx="578.0" cy="85.1" r="2"/><circle cx="583.4" cy="73.0" r="2"/><circle cx="500.3" cy="149.4" r="2"/><circle cx="574.8" cy="87.1" r="2"/><circle cx="597.5" cy="82.0" r="2"/><circle cx="580.1" cy="87.4" r="2"/><circle cx="539.7" cy="116.0" r="2"/><circle cx="619.8" cy="70.0" r="2"/><circle cx="549.0" cy="107.6" r="2"/><circle cx="529.9" cy="127.3" r="2"/><circle cx="535.2" cy="105.0" r="2"/><circle cx="573.6" cy="94.7" r="2"/><circle cx="609.5" cy="63.4" r="2"/><circle cx="616.0" cy="59.7" r="2"/><circle cx="581.6" cy="83.7" r="2"/><circle cx="531.1" cy="119.6" r="2"/><circle cx="550.4" cy="115.2" r="2"/><circle cx="541.8" cy="98.2" r="2"/><circle cx="567.6" cy="93.2" r="2"/><circle cx="510.2" cy="126.7" r="2"/><circle cx="578.1" cy="93.6" r="2"/><circle cx="597.3" cy="70.4" r="2"/><circle cx="568.7" cy="95.2" r="2"/><circle cx="590.6" cy="75.0" r="2"/><circle cx="540.3" cy="115.6" r="2"/><circle cx="521.7" cy="130.3" r="2"/><circle cx="551.1" cy="101.4" r="2"/><circle cx="615.7" cy="61.2" r="2"/><circle cx="611.1" cy="54.7" r="2"/><circle cx="557.6" cy="101.7" r="2"/><circle cx="617.4" cy="65.3" r="2"/><circle cx="562.3" cy="92.9" r="2"/><circle cx="628.5" cy="59.6" r="2"/><circle cx="591.4" cy="63.6" r="2"/><circle cx="557.8" cy="87.5" r="2"/><circle cx="602.7" cy="60.5" r="2"/><circle cx="546.1" cy="104.2" r="2"/><circle cx="540.3" cy="111.3" r="2"/><circle cx="521.8" cy="123.1" r="2"/><circle cx="583.3" cy="82.0" r="2"/><circle cx="572.1" cy="94.7" r="2"/><circle cx="571.2" cy="87.5" r="2"/><circle cx="559.2" cy="90.3" r="2"/><circle cx="625.8" cy="46.0" r="2"/><circle cx="558.8" cy="112.6" r="2"/><circle cx="548.0" cy="90.8" r="2"/><circle cx="618.9" cy="57.6" r="2"/><circle cx="625.2" cy="64.0" r="2"/><circle cx="586.2" cy="83.7" r="2"/><circle cx="511.4" cy="125.1" r="2"/><circle cx="552.4" cy="103.1" r="2"/><circle cx="596.1" cy="79.6" r="2"/><circle cx="574.6" cy="96.1" r="2"/><circle cx="629.9" cy="45.5" r="2"/><circle cx="524.8" cy="126.5" r="2"/><circle cx="598.4" cy="74.0" r="2"/><circle cx="551.4" cy="111.0" r="2"/><circle cx="621.6" cy="65.9" r="2"/><circle cx="571.3" cy="88.3" r="2"/><circle cx="611.1" cy="54.5" r="2"/><circle cx="550.7" cy="106.8" r="2"/><circle cx="523.3" cy="134.1" r="2"/><circle cx="534.0" cy="119.9" r="2"/><circle cx="552.2" cy="104.8" r="2"/><circle cx="537.1" cy="128.9" r="2"/><circle cx="617.2" cy="53.1" r="2"/><circle cx="622.2" cy="62.4" r="2"/><circle cx="583.8" cy="78.4" r="2"/><circle cx="536.8" cy="113.9" r="2"/><circle cx="569.7" cy="92.1" r="2"/><circle cx="549.3" cy="115.0" r="2"/><circle cx="626.3" cy="47.7" r="2"/><circle cx="585.4" cy="77.6" r="2"/><circle cx="591.6" cy="66.6" r="2"/><circle cx="559.6" cy="101.5" r="2"/><circle cx="501.6" cy="134.1" r="2"/><circle cx="546.2" cy="110.0" r="2"/><circle cx="541.7" cy="112.4" r="2"/><circle cx="573.8" cy="106.9" r="2"/><circle cx="636.8" cy="42.1" r="2"/><circle cx="582.2" cy="83.8" r="2"/><circle cx="618.2" cy="73.5" r="2"/><circle cx="613.8" cy="56.3" r="2"/><circle cx="574.1" cy="80.1" r="2"/><circle cx="519.8" cy="112.8" r="2"/><circle cx="634.3" cy="53.4" r="2"/><circle cx="597.7" cy="78.4" r="2"/><circle cx="634.2" cy="48.0" r="2"/><circle cx="499.4" cy="137.3" r="2"/><circle cx="515.5" cy="139.2" r="2"/><circle cx="550.5" cy="89.7" r="2"/><circle cx="636.9" cy="47.6" r="2"/><circle cx="615.5" cy="62.7" r="2"/><circle cx="588.5" cy="86.3" r="2"/><circle cx="595.9" cy="72.0" r="2"/><circle cx="624.2" cy="49.4" r="2"/><circle cx="576.4" cy="82.3" r="2"/><circle cx="607.8" cy="48.7" r="2"/><circle cx="596.3" cy="73.7" r="2"/><circle cx="572.7" cy="93.9" r="2"/><circle cx="572.2" cy="85.2" r="2"/><circle cx="583.6" cy="72.4" r="2"/><circle cx="562.7" cy="85.1" r="2"/><circle cx="568.2" cy="99.1" r="2"/><circle cx="577.9" cy="90.3" r="2"/><circle cx="544.0" cy="96.6" r="2"/><circle cx="564.2" cy="77.8" r="2"/><circle cx="501.5" cy="130.6" r="2"/><circle cx="507.9" cy="126.1" r="2"/><circle cx="625.8" cy="60.6" r="2"/><circle cx="621.9" cy="59.1" r="2"/><circle cx="503.7" cy="132.1" r="2"/><circle cx="628.3" cy="61.4" r="2"/><circle cx="610.7" cy="66.4" r="2"/><circle cx="554.7" cy="106.2" r="2"/><circle cx="623.0" cy="64.1" r="2"/><circle cx="516.8" cy="124.7" r="2"/><circle cx="535.8" cy="110.1" r="2"/><circle cx="525.2" cy="123.2" r="2"/><circle cx="540.0" cy="106.2" r="2"/><circle cx="629.5" cy="56.1" r="2"/><circle cx="530.0" cy="127.9" r="2"/><circle cx="538.2" cy="120.0" r="2"/><circle cx="547.2" cy="101.8" r="2"/><circle cx="598.8" cy="59.3" r="2"/><circle cx="574.7" cy="87.2" r="2"/><circle cx="628.8" cy="51.5" r="2"/><circle cx="558.0" cy="109.7" r="2"/><circle cx="532.0" cy="111.7" r="2"/><circle cx="567.3" cy="90.5" r="2"/><circle cx="591.6" cy="84.2" r="2"/><circle cx="548.0" cy="100.4" r="2"/><circle cx="610.0" cy="28.0" r="2"/><circle cx="607.4" cy="31.0" r="2"/><circle cx="633.0" cy="24.8" r="2"/><circle cx="642.4" cy="24.8" r="2"/><circle cx="644.4" cy="27.4" r="2"/><circle cx="640.0" cy="30.4" r="2"/><circle cx="617.4" cy="36.4" r="2"/><circle cx="613.0" cy="38.4" r="2"/><circle cx="631.0" cy="36.6" r="2"/><circle cx="609.6" cy="43.6" r="2"/><circle cx="615.4" cy="41.6" r="2"/><circle cx="656.0" cy="27.0" r="2"/><circle cx="663.0" cy="25.6" r="2"/><circle cx="666.0" cy="25.0" r="2"/><circle cx="674.4" cy="37.0" r="2"/><circle cx="667.6" cy="34.4" r="2"/><circle cx="669.0" cy="30.0" r="2"/><circle cx="653.4" cy="42.6" r="2"/><circle cx="658.0" cy="46.4" r="2"/><circle cx="651.6" cy="52.4" r="2"/><circle cx="596.4" cy="52.4" r="2"/><circle cx="586.0" cy="57.0" r="2"/><circle cx="578.0" cy="62.0" r="2"/><circle cx="606.0" cy="52.0" r="2"/><circle cx="477.0" cy="138.4" r="2"/><circle cx="482.0" cy="141.0" r="2"/><circle cx="481.6" cy="155.6" r="2"/><circle cx="485.6" cy="156.4" r="2"/><circle cx="493.0" cy="130.0" r="2"/><circle cx="502.0" cy="146.0" r="2"/><circle cx="504.0" cy="146.4" r="2"/><circle cx="514.0" cy="140.0" r="2"/><circle cx="516.0" cy="142.0" r="2"/><circle cx="520.0" cy="141.0" r="2"/><circle cx="522.0" cy="143.6" r="2"/><circle cx="507.6" cy="141.0" r="2"/><circle cx="520.6" cy="135.6" r="2"/><circle cx="672.0" cy="24.5" r="2"/><circle cx="670.0" cy="25.5" r="2"/><circle cx="673.0" cy="26.0" r="2"/><circle cx="645.0" cy="41.0" r="2"/><circle cx="648.0" cy="38.5" r="2"/><circle cx="650.0" cy="44.0" r="2"/><circle cx="643.0" cy="46.0" r="2"/><circle cx="655.0" cy="36.0" r="2"/><circle cx="660.0" cy="31.5" r="2"/><circle cx="663.0" cy="30.0" r="2"/><circle cx="647.0" cy="34.0" r="2"/><circle cx="652.0" cy="31.0" r="2"/><circle cx="488.0" cy="143.0" r="2"/><circle cx="491.0" cy="146.0" r="2"/><circle cx="495.0" cy="139.0" r="2"/><circle cx="490.0" cy="150.0" r="2"/><circle cx="486.0" cy="148.0" r="2"/><circle cx="494.0" cy="143.0" r="2"/><circle cx="496.0" cy="135.0" r="2"/></g>
<line x1="477" y1="151.6" x2="674.4" y2="23.6" stroke="#4c72b0" stroke-width="3.2" stroke-linecap="round"/>
<text x="543.3" y="158.13" font-size="8.7" fill="#262626" text-anchor="start" >Perphenazine</text>
<text transform="translate(480.63,86.6) rotate(-90)" font-size="8.7" fill="#262626" text-anchor="middle">Prochlorperazine</text>
<g fill="#4c72b0" fill-opacity="0.88" stroke="#4c72b0" stroke-opacity="0.9" stroke-width="0.8"><circle cx="90.2" cy="262.1" r="2"/><circle cx="161.2" cy="211.0" r="2"/><circle cx="152.7" cy="216.6" r="2"/><circle cx="120.1" cy="257.2" r="2"/><circle cx="106.4" cy="273.8" r="2"/><circle cx="59.5" cy="269.1" r="2"/><circle cx="117.4" cy="276.6" r="2"/><circle cx="98.4" cy="284.2" r="2"/><circle cx="104.6" cy="255.6" r="2"/><circle cx="76.5" cy="271.2" r="2"/><circle cx="95.8" cy="265.0" r="2"/><circle cx="89.2" cy="283.1" r="2"/><circle cx="108.2" cy="253.4" r="2"/><circle cx="150.4" cy="218.5" r="2"/><circle cx="109.9" cy="262.1" r="2"/><circle cx="33.3" cy="275.2" r="2"/><circle cx="59.4" cy="289.5" r="2"/><circle cx="36.1" cy="317.1" r="2"/><circle cx="66.1" cy="287.7" r="2"/><circle cx="117.4" cy="263.6" r="2"/><circle cx="111.4" cy="263.3" r="2"/><circle cx="73.5" cy="289.0" r="2"/><circle cx="106.3" cy="261.6" r="2"/><circle cx="67.5" cy="271.6" r="2"/><circle cx="42.3" cy="294.7" r="2"/><circle cx="42.9" cy="296.4" r="2"/><circle cx="63.6" cy="302.0" r="2"/><circle cx="150.0" cy="255.5" r="2"/><circle cx="45.3" cy="301.6" r="2"/><circle cx="143.3" cy="227.4" r="2"/><circle cx="146.5" cy="225.8" r="2"/><circle cx="89.2" cy="267.2" r="2"/><circle cx="94.3" cy="285.5" r="2"/><circle cx="72.9" cy="284.0" r="2"/><circle cx="95.2" cy="265.5" r="2"/><circle cx="121.1" cy="240.5" r="2"/><circle cx="96.4" cy="277.4" r="2"/><circle cx="133.9" cy="247.1" r="2"/><circle cx="141.1" cy="238.2" r="2"/><circle cx="109.1" cy="259.3" r="2"/><circle cx="108.5" cy="281.1" r="2"/><circle cx="93.7" cy="264.9" r="2"/><circle cx="109.2" cy="280.7" r="2"/><circle cx="53.8" cy="307.7" r="2"/><circle cx="111.4" cy="257.3" r="2"/><circle cx="103.8" cy="273.0" r="2"/><circle cx="63.3" cy="283.5" r="2"/><circle cx="59.2" cy="284.1" r="2"/><circle cx="63.1" cy="273.1" r="2"/><circle cx="106.6" cy="266.4" r="2"/><circle cx="22.6" cy="309.7" r="2"/><circle cx="66.0" cy="291.3" r="2"/><circle cx="38.2" cy="311.4" r="2"/><circle cx="59.4" cy="245.5" r="2"/><circle cx="91.0" cy="273.0" r="2"/><circle cx="108.1" cy="234.2" r="2"/><circle cx="137.9" cy="243.1" r="2"/><circle cx="126.6" cy="235.7" r="2"/><circle cx="140.9" cy="240.4" r="2"/><circle cx="118.3" cy="270.9" r="2"/><circle cx="78.2" cy="253.3" r="2"/><circle cx="138.3" cy="243.1" r="2"/><circle cx="77.4" cy="275.8" r="2"/><circle cx="72.7" cy="254.1" r="2"/><circle cx="154.0" cy="240.0" r="2"/><circle cx="125.8" cy="248.4" r="2"/><circle cx="104.3" cy="254.0" r="2"/><circle cx="124.5" cy="239.0" r="2"/><circle cx="129.3" cy="289.3" r="2"/><circle cx="44.2" cy="291.3" r="2"/><circle cx="92.4" cy="243.6" r="2"/><circle cx="51.2" cy="279.9" r="2"/><circle cx="100.6" cy="258.1" r="2"/><circle cx="70.4" cy="275.8" r="2"/><circle cx="147.5" cy="234.0" r="2"/><circle cx="115.6" cy="239.9" r="2"/><circle cx="65.1" cy="291.5" r="2"/><circle cx="95.2" cy="259.7" r="2"/><circle cx="49.9" cy="274.8" r="2"/><circle cx="97.4" cy="253.9" r="2"/><circle cx="116.7" cy="248.2" r="2"/><circle cx="105.9" cy="271.3" r="2"/><circle cx="22.6" cy="316.0" r="2"/><circle cx="83.2" cy="268.8" r="2"/><circle cx="115.2" cy="254.6" r="2"/><circle cx="107.5" cy="261.8" r="2"/><circle cx="139.9" cy="267.1" r="2"/><circle cx="47.1" cy="286.6" r="2"/><circle cx="115.7" cy="260.3" r="2"/><circle cx="71.1" cy="290.4" r="2"/><circle cx="103.3" cy="248.6" r="2"/><circle cx="111.2" cy="259.2" r="2"/><circle cx="121.9" cy="252.5" r="2"/><circle cx="73.9" cy="272.6" r="2"/><circle cx="102.9" cy="269.3" r="2"/><circle cx="51.5" cy="306.2" r="2"/><circle cx="42.3" cy="313.0" r="2"/><circle cx="116.9" cy="250.7" r="2"/><circle cx="93.8" cy="269.7" r="2"/><circle cx="63.5" cy="270.2" r="2"/><circle cx="96.5" cy="268.4" r="2"/><circle cx="154.9" cy="242.7" r="2"/><circle cx="135.5" cy="244.3" r="2"/><circle cx="126.1" cy="256.7" r="2"/><circle cx="28.0" cy="308.6" r="2"/><circle cx="92.1" cy="278.2" r="2"/><circle cx="113.9" cy="272.4" r="2"/><circle cx="110.8" cy="254.0" r="2"/><circle cx="111.6" cy="259.1" r="2"/><circle cx="86.9" cy="270.4" r="2"/><circle cx="162.6" cy="220.7" r="2"/><circle cx="151.9" cy="232.2" r="2"/><circle cx="92.2" cy="252.7" r="2"/><circle cx="58.6" cy="298.1" r="2"/><circle cx="74.8" cy="301.4" r="2"/><circle cx="141.2" cy="256.0" r="2"/><circle cx="168.3" cy="209.7" r="2"/><circle cx="59.9" cy="307.8" r="2"/><circle cx="106.8" cy="249.7" r="2"/><circle cx="82.6" cy="273.0" r="2"/><circle cx="115.3" cy="279.2" r="2"/><circle cx="107.9" cy="244.2" r="2"/><circle cx="169.7" cy="233.2" r="2"/><circle cx="118.2" cy="256.3" r="2"/><circle cx="95.4" cy="264.0" r="2"/><circle cx="138.5" cy="228.6" r="2"/><circle cx="85.4" cy="277.7" r="2"/><circle cx="81.9" cy="267.9" r="2"/><circle cx="64.6" cy="301.0" r="2"/><circle cx="77.2" cy="258.3" r="2"/><circle cx="97.4" cy="258.1" r="2"/><circle cx="55.6" cy="285.5" r="2"/><circle cx="15.6" cy="297.7" r="2"/><circle cx="135.9" cy="226.9" r="2"/><circle cx="66.0" cy="284.8" r="2"/><circle cx="75.2" cy="275.3" r="2"/><circle cx="81.6" cy="252.0" r="2"/><circle cx="58.5" cy="280.8" r="2"/><circle cx="55.0" cy="297.2" r="2"/><circle cx="101.9" cy="246.0" r="2"/><circle cx="123.7" cy="270.7" r="2"/><circle cx="124.1" cy="266.8" r="2"/><circle cx="38.6" cy="278.1" r="2"/><circle cx="94.8" cy="248.2" r="2"/><circle cx="50.8" cy="297.8" r="2"/><circle cx="125.1" cy="232.3" r="2"/><circle cx="87.1" cy="267.6" r="2"/><circle cx="97.2" cy="258.9" r="2"/><circle cx="92.4" cy="275.5" r="2"/><circle cx="73.6" cy="245.0" r="2"/><circle cx="37.9" cy="270.6" r="2"/><circle cx="117.8" cy="236.2" r="2"/><circle cx="43.2" cy="310.9" r="2"/><circle cx="50.9" cy="290.5" r="2"/><circle cx="84.4" cy="249.6" r="2"/><circle cx="68.9" cy="288.5" r="2"/><circle cx="105.7" cy="269.5" r="2"/><circle cx="134.2" cy="239.7" r="2"/><circle cx="105.2" cy="255.8" r="2"/><circle cx="103.2" cy="267.3" r="2"/><circle cx="96.6" cy="281.7" r="2"/><circle cx="128.4" cy="248.5" r="2"/><circle cx="25.6" cy="314.9" r="2"/><circle cx="109.7" cy="256.9" r="2"/><circle cx="60.3" cy="281.9" r="2"/><circle cx="48.9" cy="281.4" r="2"/><circle cx="95.9" cy="269.2" r="2"/><circle cx="81.0" cy="270.6" r="2"/><circle cx="117.9" cy="249.4" r="2"/><circle cx="137.6" cy="253.5" r="2"/><circle cx="93.0" cy="279.3" r="2"/><circle cx="170.2" cy="200.3" r="2"/><circle cx="128.7" cy="253.8" r="2"/><circle cx="150.7" cy="225.2" r="2"/><circle cx="99.6" cy="252.7" r="2"/><circle cx="41.2" cy="286.9" r="2"/><circle cx="53.0" cy="307.7" r="2"/><circle cx="122.8" cy="261.0" r="2"/><circle cx="132.2" cy="234.5" r="2"/><circle cx="68.0" cy="267.1" r="2"/><circle cx="85.6" cy="272.2" r="2"/><circle cx="105.7" cy="253.8" r="2"/><circle cx="82.5" cy="254.1" r="2"/><circle cx="157.3" cy="204.6" r="2"/><circle cx="91.6" cy="268.5" r="2"/><circle cx="165.4" cy="226.2" r="2"/><circle cx="75.8" cy="288.0" r="2"/><circle cx="65.0" cy="312.2" r="2"/><circle cx="10.7" cy="311.9" r="2"/><circle cx="132.1" cy="236.9" r="2"/><circle cx="81.6" cy="250.6" r="2"/><circle cx="108.4" cy="269.9" r="2"/><circle cx="102.9" cy="258.1" r="2"/><circle cx="27.1" cy="322.7" r="2"/><circle cx="152.8" cy="232.3" r="2"/><circle cx="82.0" cy="294.5" r="2"/><circle cx="89.7" cy="274.0" r="2"/><circle cx="11.9" cy="301.6" r="2"/><circle cx="131.0" cy="236.3" r="2"/><circle cx="133.4" cy="222.8" r="2"/><circle cx="72.8" cy="256.1" r="2"/><circle cx="99.3" cy="267.4" r="2"/><circle cx="110.7" cy="268.7" r="2"/><circle cx="132.4" cy="270.4" r="2"/><circle cx="99.8" cy="262.7" r="2"/><circle cx="161.3" cy="223.7" r="2"/><circle cx="86.6" cy="256.4" r="2"/><circle cx="72.8" cy="292.9" r="2"/><circle cx="78.1" cy="281.7" r="2"/><circle cx="65.2" cy="293.4" r="2"/><circle cx="134.1" cy="250.6" r="2"/><circle cx="105.9" cy="234.6" r="2"/><circle cx="64.8" cy="294.4" r="2"/><circle cx="109.2" cy="259.7" r="2"/><circle cx="19.2" cy="306.2" r="2"/><circle cx="85.1" cy="266.6" r="2"/><circle cx="115.9" cy="277.5" r="2"/><circle cx="122.4" cy="270.7" r="2"/><circle cx="66.5" cy="308.0" r="2"/><circle cx="130.6" cy="229.6" r="2"/><circle cx="167.0" cy="214.6" r="2"/><circle cx="79.7" cy="287.7" r="2"/><circle cx="124.1" cy="232.7" r="2"/><circle cx="36.8" cy="291.3" r="2"/><circle cx="21.4" cy="285.8" r="2"/><circle cx="119.2" cy="276.9" r="2"/><circle cx="97.6" cy="279.1" r="2"/><circle cx="103.6" cy="267.4" r="2"/><circle cx="73.8" cy="281.9" r="2"/><circle cx="84.8" cy="266.8" r="2"/><circle cx="126.8" cy="242.0" r="2"/><circle cx="161.3" cy="235.2" r="2"/><circle cx="87.8" cy="261.0" r="2"/><circle cx="33.3" cy="319.7" r="2"/><circle cx="144.5" cy="230.2" r="2"/><circle cx="118.9" cy="240.3" r="2"/><circle cx="121.9" cy="267.8" r="2"/><circle cx="103.0" cy="259.7" r="2"/><circle cx="98.9" cy="258.4" r="2"/><circle cx="115.6" cy="223.7" r="2"/><circle cx="25.6" cy="315.1" r="2"/><circle cx="74.0" cy="260.7" r="2"/><circle cx="69.9" cy="295.9" r="2"/><circle cx="94.9" cy="245.5" r="2"/><circle cx="109.3" cy="232.7" r="2"/><circle cx="67.6" cy="286.8" r="2"/><circle cx="161.9" cy="232.3" r="2"/><circle cx="55.6" cy="291.3" r="2"/><circle cx="78.9" cy="259.5" r="2"/><circle cx="105.1" cy="272.3" r="2"/><circle cx="48.5" cy="274.3" r="2"/><circle cx="117.7" cy="246.5" r="2"/><circle cx="120.1" cy="240.7" r="2"/><circle cx="84.9" cy="267.2" r="2"/><circle cx="168.6" cy="234.0" r="2"/><circle cx="99.2" cy="255.3" r="2"/><circle cx="106.7" cy="267.0" r="2"/><circle cx="59.5" cy="296.8" r="2"/><circle cx="32.4" cy="280.5" r="2"/><circle cx="72.1" cy="264.3" r="2"/><circle cx="83.8" cy="267.8" r="2"/><circle cx="78.7" cy="268.0" r="2"/><circle cx="125.3" cy="252.5" r="2"/><circle cx="52.9" cy="301.1" r="2"/><circle cx="26.6" cy="317.1" r="2"/><circle cx="147.1" cy="233.1" r="2"/><circle cx="74.6" cy="259.8" r="2"/><circle cx="76.5" cy="277.5" r="2"/><circle cx="54.2" cy="283.4" r="2"/><circle cx="130.3" cy="253.0" r="2"/><circle cx="80.4" cy="273.9" r="2"/><circle cx="104.5" cy="270.5" r="2"/><circle cx="18.7" cy="306.0" r="2"/><circle cx="140.6" cy="258.7" r="2"/><circle cx="111.1" cy="225.6" r="2"/><circle cx="117.1" cy="239.5" r="2"/><circle cx="143.1" cy="244.3" r="2"/><circle cx="88.7" cy="249.7" r="2"/><circle cx="89.7" cy="279.4" r="2"/><circle cx="123.4" cy="233.0" r="2"/><circle cx="112.3" cy="257.3" r="2"/><circle cx="86.8" cy="258.9" r="2"/><circle cx="97.8" cy="258.7" r="2"/><circle cx="76.9" cy="279.5" r="2"/><circle cx="123.3" cy="248.1" r="2"/><circle cx="131.7" cy="239.4" r="2"/><circle cx="96.3" cy="294.6" r="2"/><circle cx="167.6" cy="223.2" r="2"/><circle cx="37.6" cy="287.4" r="2"/><circle cx="87.3" cy="283.5" r="2"/><circle cx="161.3" cy="237.9" r="2"/><circle cx="80.1" cy="291.7" r="2"/><circle cx="149.3" cy="221.3" r="2"/><circle cx="116.9" cy="267.6" r="2"/><circle cx="50.7" cy="308.1" r="2"/><circle cx="125.7" cy="248.1" r="2"/><circle cx="57.2" cy="292.2" r="2"/><circle cx="45.1" cy="255.5" r="2"/><circle cx="90.4" cy="261.4" r="2"/><circle cx="77.9" cy="300.7" r="2"/><circle cx="54.4" cy="266.4" r="2"/><circle cx="82.3" cy="266.7" r="2"/><circle cx="57.9" cy="292.3" r="2"/><circle cx="98.5" cy="272.1" r="2"/><circle cx="95.3" cy="288.2" r="2"/><circle cx="124.6" cy="224.9" r="2"/><circle cx="78.9" cy="276.5" r="2"/><circle cx="45.5" cy="307.5" r="2"/><circle cx="45.9" cy="277.8" r="2"/><circle cx="86.8" cy="270.7" r="2"/><circle cx="154.7" cy="256.2" r="2"/><circle cx="128.5" cy="264.1" r="2"/><circle cx="71.8" cy="287.5" r="2"/><circle cx="132.1" cy="209.0" r="2"/><circle cx="52.0" cy="290.2" r="2"/><circle cx="134.8" cy="247.8" r="2"/><circle cx="81.6" cy="270.2" r="2"/><circle cx="125.5" cy="247.3" r="2"/><circle cx="119.9" cy="293.1" r="2"/><circle cx="85.6" cy="269.0" r="2"/><circle cx="108.7" cy="245.1" r="2"/><circle cx="55.6" cy="293.1" r="2"/><circle cx="93.4" cy="263.0" r="2"/><circle cx="137.5" cy="236.9" r="2"/><circle cx="123.0" cy="260.1" r="2"/><circle cx="99.6" cy="266.8" r="2"/><circle cx="57.6" cy="272.4" r="2"/><circle cx="136.6" cy="239.8" r="2"/><circle cx="33.1" cy="309.6" r="2"/><circle cx="65.6" cy="277.5" r="2"/><circle cx="109.9" cy="273.0" r="2"/><circle cx="50.3" cy="303.5" r="2"/><circle cx="154.9" cy="217.3" r="2"/><circle cx="137.9" cy="245.1" r="2"/><circle cx="74.6" cy="305.3" r="2"/><circle cx="75.1" cy="299.3" r="2"/><circle cx="46.0" cy="294.8" r="2"/><circle cx="42.9" cy="309.5" r="2"/><circle cx="113.1" cy="246.5" r="2"/><circle cx="120.0" cy="231.9" r="2"/><circle cx="109.6" cy="265.1" r="2"/><circle cx="106.4" cy="262.9" r="2"/><circle cx="74.9" cy="285.3" r="2"/><circle cx="110.0" cy="257.1" r="2"/><circle cx="40.1" cy="303.4" r="2"/><circle cx="96.6" cy="258.5" r="2"/><circle cx="152.4" cy="238.5" r="2"/><circle cx="146.7" cy="246.8" r="2"/><circle cx="78.6" cy="275.3" r="2"/><circle cx="83.5" cy="284.2" r="2"/><circle cx="148.8" cy="210.4" r="2"/><circle cx="164.4" cy="214.4" r="2"/><circle cx="39.2" cy="319.1" r="2"/><circle cx="80.0" cy="299.1" r="2"/><circle cx="105.2" cy="263.7" r="2"/><circle cx="142.7" cy="236.5" r="2"/><circle cx="64.3" cy="267.5" r="2"/><circle cx="120.8" cy="255.9" r="2"/><circle cx="84.8" cy="282.9" r="2"/><circle cx="112.7" cy="263.4" r="2"/><circle cx="91.1" cy="275.3" r="2"/><circle cx="83.5" cy="279.2" r="2"/><circle cx="136.5" cy="226.4" r="2"/><circle cx="122.2" cy="257.5" r="2"/><circle cx="55.0" cy="270.0" r="2"/><circle cx="104.6" cy="280.7" r="2"/><circle cx="45.2" cy="297.8" r="2"/><circle cx="67.4" cy="267.1" r="2"/><circle cx="46.9" cy="313.2" r="2"/><circle cx="45.7" cy="311.3" r="2"/><circle cx="70.1" cy="272.4" r="2"/><circle cx="58.9" cy="317.6" r="2"/><circle cx="116.4" cy="240.0" r="2"/><circle cx="126.7" cy="251.7" r="2"/><circle cx="87.2" cy="287.0" r="2"/><circle cx="53.6" cy="260.4" r="2"/><circle cx="127.0" cy="260.8" r="2"/><circle cx="19.1" cy="310.7" r="2"/><circle cx="22.6" cy="309.3" r="2"/><circle cx="124.1" cy="234.5" r="2"/><circle cx="121.3" cy="255.1" r="2"/><circle cx="133.5" cy="228.4" r="2"/><circle cx="88.1" cy="257.4" r="2"/><circle cx="48.2" cy="288.2" r="2"/><circle cx="76.9" cy="260.6" r="2"/><circle cx="117.9" cy="273.9" r="2"/><circle cx="67.0" cy="265.1" r="2"/><circle cx="69.5" cy="271.3" r="2"/><circle cx="43.1" cy="293.0" r="2"/><circle cx="51.9" cy="292.1" r="2"/><circle cx="128.5" cy="257.1" r="2"/><circle cx="113.6" cy="266.3" r="2"/><circle cx="52.0" cy="287.9" r="2"/><circle cx="55.1" cy="284.9" r="2"/><circle cx="74.8" cy="278.8" r="2"/><circle cx="117.2" cy="264.2" r="2"/><circle cx="51.7" cy="301.6" r="2"/><circle cx="89.9" cy="262.4" r="2"/><circle cx="14.4" cy="286.5" r="2"/><circle cx="48.3" cy="323.1" r="2"/><circle cx="112.4" cy="268.9" r="2"/><circle cx="130.6" cy="248.7" r="2"/><circle cx="52.2" cy="296.5" r="2"/><circle cx="66.8" cy="276.1" r="2"/><circle cx="126.8" cy="233.9" r="2"/><circle cx="81.4" cy="270.0" r="2"/><circle cx="75.6" cy="274.9" r="2"/><circle cx="116.1" cy="245.3" r="2"/><circle cx="103.8" cy="241.4" r="2"/><circle cx="138.7" cy="236.1" r="2"/><circle cx="126.6" cy="255.3" r="2"/><circle cx="74.3" cy="272.0" r="2"/><circle cx="91.8" cy="268.6" r="2"/><circle cx="94.0" cy="239.0" r="2"/><circle cx="44.6" cy="293.6" r="2"/><circle cx="59.2" cy="286.0" r="2"/><circle cx="133.4" cy="226.9" r="2"/><circle cx="35.8" cy="278.3" r="2"/><circle cx="134.3" cy="248.5" r="2"/><circle cx="107.2" cy="248.1" r="2"/><circle cx="91.1" cy="275.3" r="2"/><circle cx="116.9" cy="247.6" r="2"/><circle cx="114.5" cy="263.1" r="2"/><circle cx="142.5" cy="233.5" r="2"/><circle cx="81.1" cy="254.3" r="2"/><circle cx="87.7" cy="269.6" r="2"/><circle cx="87.0" cy="266.7" r="2"/><circle cx="168.2" cy="231.6" r="2"/><circle cx="132.5" cy="238.0" r="2"/><circle cx="61.2" cy="281.2" r="2"/><circle cx="83.7" cy="284.7" r="2"/><circle cx="69.5" cy="297.3" r="2"/><circle cx="96.9" cy="275.4" r="2"/><circle cx="104.6" cy="274.6" r="2"/><circle cx="26.8" cy="317.4" r="2"/><circle cx="135.7" cy="254.0" r="2"/><circle cx="113.1" cy="261.0" r="2"/><circle cx="69.7" cy="282.3" r="2"/><circle cx="90.8" cy="270.8" r="2"/><circle cx="77.6" cy="309.2" r="2"/><circle cx="98.4" cy="264.5" r="2"/><circle cx="134.9" cy="239.4" r="2"/><circle cx="38.6" cy="295.0" r="2"/><circle cx="146.6" cy="235.2" r="2"/><circle cx="82.3" cy="277.2" r="2"/><circle cx="153.8" cy="216.0" r="2"/><circle cx="112.2" cy="229.3" r="2"/><circle cx="143.6" cy="241.4" r="2"/><circle cx="118.1" cy="230.9" r="2"/><circle cx="137.9" cy="244.3" r="2"/><circle cx="98.7" cy="266.0" r="2"/><circle cx="64.9" cy="299.8" r="2"/><circle cx="122.2" cy="272.7" r="2"/><circle cx="123.7" cy="254.2" r="2"/><circle cx="20.3" cy="295.0" r="2"/><circle cx="89.1" cy="259.2" r="2"/><circle cx="137.1" cy="241.8" r="2"/><circle cx="48.9" cy="265.9" r="2"/><circle cx="88.0" cy="271.5" r="2"/><circle cx="150.7" cy="241.9" r="2"/><circle cx="63.2" cy="280.8" r="2"/><circle cx="151.1" cy="234.3" r="2"/><circle cx="141.8" cy="228.5" r="2"/><circle cx="126.4" cy="241.4" r="2"/><circle cx="111.3" cy="232.7" r="2"/><circle cx="105.8" cy="261.6" r="2"/><circle cx="63.7" cy="305.9" r="2"/><circle cx="77.1" cy="279.2" r="2"/><circle cx="124.7" cy="253.6" r="2"/><circle cx="102.2" cy="248.8" r="2"/><circle cx="167.2" cy="242.6" r="2"/><circle cx="84.1" cy="262.5" r="2"/><circle cx="84.1" cy="274.3" r="2"/><circle cx="107.4" cy="246.0" r="2"/><circle cx="111.4" cy="270.4" r="2"/><circle cx="99.5" cy="263.9" r="2"/><circle cx="65.6" cy="286.3" r="2"/><circle cx="153.8" cy="237.4" r="2"/><circle cx="71.6" cy="280.0" r="2"/><circle cx="124.0" cy="244.0" r="2"/><circle cx="86.0" cy="278.0" r="2"/><circle cx="51.4" cy="286.9" r="2"/><circle cx="150.7" cy="234.0" r="2"/><circle cx="64.6" cy="264.4" r="2"/><circle cx="113.4" cy="246.3" r="2"/><circle cx="83.4" cy="266.6" r="2"/><circle cx="125.6" cy="248.3" r="2"/><circle cx="93.2" cy="283.4" r="2"/><circle cx="79.8" cy="252.6" r="2"/><circle cx="88.7" cy="240.2" r="2"/><circle cx="91.1" cy="254.6" r="2"/><circle cx="55.9" cy="282.8" r="2"/><circle cx="68.7" cy="251.6" r="2"/><circle cx="121.8" cy="225.3" r="2"/><circle cx="118.6" cy="254.4" r="2"/><circle cx="97.2" cy="266.1" r="2"/><circle cx="70.5" cy="279.4" r="2"/><circle cx="123.3" cy="238.7" r="2"/><circle cx="84.2" cy="270.6" r="2"/><circle cx="87.6" cy="259.1" r="2"/><circle cx="65.1" cy="306.8" r="2"/><circle cx="103.1" cy="269.8" r="2"/><circle cx="71.9" cy="275.1" r="2"/><circle cx="66.8" cy="299.3" r="2"/><circle cx="165.8" cy="226.3" r="2"/><circle cx="125.5" cy="256.8" r="2"/><circle cx="143.0" cy="240.9" r="2"/><circle cx="99.4" cy="249.9" r="2"/><circle cx="134.1" cy="256.2" r="2"/><circle cx="127.1" cy="249.4" r="2"/><circle cx="143.6" cy="223.8" r="2"/><circle cx="88.9" cy="282.9" r="2"/><circle cx="107.4" cy="254.0" r="2"/><circle cx="95.6" cy="266.6" r="2"/><circle cx="44.5" cy="298.1" r="2"/><circle cx="98.4" cy="243.7" r="2"/><circle cx="121.7" cy="259.0" r="2"/><circle cx="75.8" cy="290.5" r="2"/><circle cx="140.9" cy="250.7" r="2"/><circle cx="146.5" cy="257.5" r="2"/><circle cx="82.0" cy="279.0" r="2"/><circle cx="151.9" cy="243.0" r="2"/><circle cx="164.3" cy="246.5" r="2"/><circle cx="115.4" cy="250.2" r="2"/><circle cx="60.5" cy="310.3" r="2"/><circle cx="153.6" cy="254.8" r="2"/><circle cx="91.6" cy="278.9" r="2"/><circle cx="83.5" cy="298.0" r="2"/><circle cx="102.3" cy="273.5" r="2"/><circle cx="77.5" cy="264.9" r="2"/><circle cx="138.7" cy="255.7" r="2"/><circle cx="127.5" cy="251.4" r="2"/><circle cx="144.3" cy="242.6" r="2"/><circle cx="120.1" cy="253.5" r="2"/><circle cx="67.8" cy="300.9" r="2"/><circle cx="91.9" cy="275.6" r="2"/><circle cx="131.3" cy="235.4" r="2"/><circle cx="82.5" cy="280.3" r="2"/><circle cx="88.8" cy="260.3" r="2"/><circle cx="75.7" cy="272.0" r="2"/><circle cx="141.7" cy="233.4" r="2"/><circle cx="126.4" cy="239.4" r="2"/><circle cx="96.9" cy="269.9" r="2"/><circle cx="89.3" cy="283.5" r="2"/><circle cx="114.2" cy="280.5" r="2"/><circle cx="129.8" cy="261.8" r="2"/><circle cx="127.0" cy="261.1" r="2"/><circle cx="86.5" cy="286.8" r="2"/><circle cx="114.4" cy="272.8" r="2"/><circle cx="130.1" cy="240.4" r="2"/><circle cx="127.1" cy="256.6" r="2"/><circle cx="64.2" cy="283.0" r="2"/><circle cx="68.5" cy="276.0" r="2"/><circle cx="89.2" cy="263.0" r="2"/><circle cx="104.8" cy="256.9" r="2"/><circle cx="133.0" cy="227.0" r="2"/><circle cx="121.5" cy="257.6" r="2"/><circle cx="93.2" cy="267.1" r="2"/><circle cx="98.9" cy="265.5" r="2"/><circle cx="164.8" cy="229.3" r="2"/><circle cx="74.7" cy="288.2" r="2"/><circle cx="109.6" cy="249.7" r="2"/><circle cx="157.5" cy="227.7" r="2"/><circle cx="111.1" cy="235.0" r="2"/><circle cx="20.3" cy="280.9" r="2"/><circle cx="112.2" cy="229.9" r="2"/><circle cx="83.3" cy="294.1" r="2"/><circle cx="93.7" cy="242.5" r="2"/><circle cx="137.9" cy="247.1" r="2"/><circle cx="115.8" cy="273.9" r="2"/><circle cx="88.0" cy="264.4" r="2"/><circle cx="131.9" cy="266.4" r="2"/><circle cx="114.5" cy="279.6" r="2"/><circle cx="102.0" cy="274.9" r="2"/><circle cx="109.4" cy="289.8" r="2"/><circle cx="107.6" cy="267.2" r="2"/><circle cx="85.1" cy="262.4" r="2"/><circle cx="80.6" cy="282.0" r="2"/><circle cx="99.0" cy="258.0" r="2"/><circle cx="61.7" cy="268.6" r="2"/><circle cx="50.2" cy="275.9" r="2"/><circle cx="147.4" cy="266.4" r="2"/><circle cx="88.9" cy="262.7" r="2"/><circle cx="97.1" cy="264.9" r="2"/><circle cx="92.9" cy="258.7" r="2"/><circle cx="98.9" cy="266.0" r="2"/><circle cx="98.9" cy="260.9" r="2"/><circle cx="100.5" cy="257.7" r="2"/><circle cx="67.4" cy="266.6" r="2"/><circle cx="133.4" cy="224.5" r="2"/><circle cx="71.7" cy="270.3" r="2"/><circle cx="137.3" cy="245.2" r="2"/><circle cx="57.7" cy="303.0" r="2"/><circle cx="135.7" cy="266.9" r="2"/><circle cx="92.4" cy="274.7" r="2"/><circle cx="72.5" cy="278.8" r="2"/><circle cx="112.3" cy="238.4" r="2"/><circle cx="58.3" cy="288.5" r="2"/><circle cx="100.9" cy="234.1" r="2"/><circle cx="13.8" cy="310.9" r="2"/><circle cx="80.8" cy="297.0" r="2"/><circle cx="73.3" cy="284.0" r="2"/><circle cx="118.5" cy="267.8" r="2"/><circle cx="131.3" cy="239.8" r="2"/><circle cx="65.5" cy="265.6" r="2"/><circle cx="159.1" cy="221.9" r="2"/><circle cx="75.5" cy="272.9" r="2"/><circle cx="156.5" cy="220.0" r="2"/><circle cx="94.7" cy="262.0" r="2"/><circle cx="73.4" cy="277.6" r="2"/><circle cx="69.6" cy="277.1" r="2"/><circle cx="56.5" cy="272.8" r="2"/><circle cx="149.4" cy="235.5" r="2"/><circle cx="94.8" cy="271.7" r="2"/><circle cx="166.0" cy="229.6" r="2"/><circle cx="90.4" cy="253.1" r="2"/><circle cx="8.7" cy="316.6" r="2"/><circle cx="130.1" cy="222.3" r="2"/><circle cx="84.0" cy="285.6" r="2"/><circle cx="89.0" cy="256.5" r="2"/><circle cx="157.6" cy="225.7" r="2"/><circle cx="88.0" cy="264.8" r="2"/><circle cx="142.2" cy="230.7" r="2"/><circle cx="97.8" cy="250.7" r="2"/><circle cx="69.4" cy="258.1" r="2"/><circle cx="117.3" cy="276.9" r="2"/><circle cx="75.2" cy="282.0" r="2"/><circle cx="144.7" cy="240.7" r="2"/><circle cx="134.5" cy="271.6" r="2"/><circle cx="100.4" cy="262.2" r="2"/><circle cx="121.2" cy="258.6" r="2"/><circle cx="119.5" cy="252.5" r="2"/><circle cx="87.5" cy="287.2" r="2"/><circle cx="132.0" cy="251.5" r="2"/><circle cx="89.4" cy="274.4" r="2"/><circle cx="121.4" cy="247.6" r="2"/><circle cx="61.9" cy="290.3" r="2"/><circle cx="101.9" cy="278.4" r="2"/><circle cx="113.8" cy="227.5" r="2"/><circle cx="68.0" cy="281.1" r="2"/><circle cx="82.3" cy="268.7" r="2"/><circle cx="77.8" cy="273.0" r="2"/><circle cx="125.8" cy="221.8" r="2"/><circle cx="70.8" cy="291.1" r="2"/><circle cx="114.8" cy="243.6" r="2"/><circle cx="156.1" cy="227.3" r="2"/><circle cx="111.7" cy="250.0" r="2"/><circle cx="36.9" cy="278.8" r="2"/><circle cx="103.0" cy="256.0" r="2"/><circle cx="137.8" cy="216.4" r="2"/><circle cx="87.4" cy="258.6" r="2"/><circle cx="140.4" cy="235.5" r="2"/><circle cx="121.7" cy="250.8" r="2"/><circle cx="114.3" cy="256.1" r="2"/><circle cx="88.4" cy="268.9" r="2"/><circle cx="78.8" cy="305.3" r="2"/><circle cx="88.6" cy="276.5" r="2"/><circle cx="100.7" cy="246.9" r="2"/><circle cx="118.2" cy="244.7" r="2"/><circle cx="114.3" cy="246.4" r="2"/><circle cx="86.9" cy="269.2" r="2"/><circle cx="100.9" cy="255.2" r="2"/><circle cx="113.1" cy="244.4" r="2"/><circle cx="36.7" cy="323.8" r="2"/><circle cx="69.2" cy="282.7" r="2"/><circle cx="68.1" cy="278.3" r="2"/><circle cx="90.7" cy="266.0" r="2"/><circle cx="88.0" cy="268.0" r="2"/><circle cx="88.7" cy="289.4" r="2"/><circle cx="65.3" cy="290.9" r="2"/><circle cx="124.1" cy="264.6" r="2"/><circle cx="109.1" cy="216.3" r="2"/><circle cx="36.1" cy="306.3" r="2"/><circle cx="99.0" cy="278.7" r="2"/><circle cx="55.7" cy="316.8" r="2"/><circle cx="163.2" cy="226.6" r="2"/><circle cx="81.3" cy="251.8" r="2"/><circle cx="83.6" cy="281.6" r="2"/><circle cx="101.8" cy="254.7" r="2"/><circle cx="91.0" cy="245.0" r="2"/><circle cx="96.4" cy="257.6" r="2"/><circle cx="157.4" cy="243.9" r="2"/><circle cx="107.2" cy="275.8" r="2"/><circle cx="130.4" cy="255.5" r="2"/><circle cx="141.5" cy="225.0" r="2"/><circle cx="61.6" cy="320.7" r="2"/><circle cx="162.8" cy="210.6" r="2"/><circle cx="124.8" cy="248.0" r="2"/><circle cx="135.0" cy="223.5" r="2"/><circle cx="65.9" cy="302.0" r="2"/><circle cx="129.7" cy="252.2" r="2"/><circle cx="114.4" cy="267.3" r="2"/><circle cx="78.3" cy="278.0" r="2"/><circle cx="120.2" cy="254.2" r="2"/><circle cx="89.6" cy="244.6" r="2"/><circle cx="106.1" cy="273.7" r="2"/><circle cx="133.3" cy="256.4" r="2"/><circle cx="141.7" cy="233.8" r="2"/><circle cx="120.8" cy="251.3" r="2"/><circle cx="145.0" cy="241.2" r="2"/><circle cx="154.6" cy="252.6" r="2"/><circle cx="51.8" cy="298.5" r="2"/><circle cx="80.3" cy="276.2" r="2"/><circle cx="63.0" cy="279.1" r="2"/><circle cx="102.4" cy="242.2" r="2"/><circle cx="153.6" cy="224.0" r="2"/><circle cx="123.6" cy="250.9" r="2"/><circle cx="59.0" cy="285.0" r="2"/><circle cx="87.6" cy="272.4" r="2"/><circle cx="137.8" cy="251.5" r="2"/><circle cx="78.6" cy="282.6" r="2"/><circle cx="95.1" cy="270.6" r="2"/><circle cx="110.3" cy="266.7" r="2"/><circle cx="29.5" cy="308.5" r="2"/><circle cx="128.4" cy="246.7" r="2"/><circle cx="111.8" cy="263.3" r="2"/><circle cx="120.4" cy="228.5" r="2"/><circle cx="61.6" cy="303.8" r="2"/><circle cx="69.6" cy="264.7" r="2"/><circle cx="76.1" cy="289.5" r="2"/><circle cx="108.3" cy="259.2" r="2"/><circle cx="101.4" cy="278.1" r="2"/><circle cx="103.6" cy="262.3" r="2"/><circle cx="166.8" cy="211.4" r="2"/><circle cx="148.4" cy="249.7" r="2"/><circle cx="71.4" cy="283.5" r="2"/><circle cx="73.9" cy="281.2" r="2"/><circle cx="164.0" cy="227.0" r="2"/><circle cx="86.7" cy="285.5" r="2"/><circle cx="151.2" cy="244.6" r="2"/><circle cx="159.5" cy="231.7" r="2"/><circle cx="78.2" cy="256.1" r="2"/><circle cx="88.5" cy="265.4" r="2"/><circle cx="101.9" cy="264.4" r="2"/><circle cx="65.9" cy="308.6" r="2"/><circle cx="61.6" cy="292.1" r="2"/><circle cx="83.5" cy="272.7" r="2"/><circle cx="131.2" cy="261.7" r="2"/><circle cx="81.7" cy="273.5" r="2"/><circle cx="90.9" cy="269.1" r="2"/><circle cx="81.1" cy="277.5" r="2"/><circle cx="46.9" cy="275.5" r="2"/><circle cx="155.2" cy="244.2" r="2"/><circle cx="9.8" cy="323.6" r="2"/><circle cx="73.9" cy="275.8" r="2"/><circle cx="120.0" cy="236.8" r="2"/><circle cx="45.7" cy="299.3" r="2"/><circle cx="121.7" cy="270.1" r="2"/><circle cx="146.3" cy="227.8" r="2"/><circle cx="66.1" cy="270.0" r="2"/><circle cx="106.7" cy="265.8" r="2"/><circle cx="56.6" cy="268.4" r="2"/><circle cx="118.0" cy="223.4" r="2"/><circle cx="102.1" cy="256.9" r="2"/><circle cx="106.9" cy="250.7" r="2"/><circle cx="150.7" cy="230.2" r="2"/><circle cx="116.6" cy="246.8" r="2"/><circle cx="149.9" cy="238.9" r="2"/><circle cx="122.8" cy="247.5" r="2"/><circle cx="53.2" cy="284.0" r="2"/><circle cx="108.7" cy="252.8" r="2"/><circle cx="117.3" cy="262.3" r="2"/><circle cx="43.8" cy="310.6" r="2"/><circle cx="149.4" cy="246.9" r="2"/><circle cx="101.3" cy="272.8" r="2"/><circle cx="112.7" cy="212.0" r="2"/><circle cx="64.7" cy="271.7" r="2"/><circle cx="101.5" cy="259.0" r="2"/><circle cx="110.1" cy="260.9" r="2"/><circle cx="86.3" cy="250.5" r="2"/><circle cx="101.8" cy="282.3" r="2"/><circle cx="18.2" cy="317.0" r="2"/><circle cx="150.5" cy="225.7" r="2"/><circle cx="56.4" cy="292.4" r="2"/><circle cx="15.8" cy="309.7" r="2"/><circle cx="62.2" cy="276.4" r="2"/><circle cx="67.0" cy="290.7" r="2"/><circle cx="119.4" cy="246.5" r="2"/><circle cx="64.0" cy="266.6" r="2"/><circle cx="109.5" cy="249.9" r="2"/><circle cx="62.2" cy="285.1" r="2"/><circle cx="119.4" cy="269.6" r="2"/><circle cx="60.1" cy="311.7" r="2"/><circle cx="123.9" cy="262.0" r="2"/><circle cx="62.3" cy="273.9" r="2"/><circle cx="120.7" cy="253.7" r="2"/><circle cx="124.4" cy="265.6" r="2"/><circle cx="38.1" cy="298.5" r="2"/><circle cx="55.5" cy="274.6" r="2"/><circle cx="54.3" cy="292.9" r="2"/><circle cx="70.8" cy="261.5" r="2"/><circle cx="62.1" cy="294.3" r="2"/><circle cx="43.7" cy="297.9" r="2"/><circle cx="102.3" cy="261.3" r="2"/><circle cx="119.3" cy="247.5" r="2"/><circle cx="48.6" cy="290.6" r="2"/><circle cx="77.4" cy="291.7" r="2"/><circle cx="98.8" cy="273.0" r="2"/><circle cx="89.7" cy="256.9" r="2"/><circle cx="71.9" cy="302.1" r="2"/><circle cx="129.3" cy="229.3" r="2"/><circle cx="130.7" cy="255.0" r="2"/><circle cx="124.3" cy="252.3" r="2"/><circle cx="90.6" cy="286.1" r="2"/><circle cx="164.6" cy="240.1" r="2"/><circle cx="83.2" cy="274.0" r="2"/><circle cx="93.9" cy="281.1" r="2"/><circle cx="143.6" cy="243.0" r="2"/><circle cx="68.1" cy="312.4" r="2"/><circle cx="113.6" cy="246.9" r="2"/><circle cx="100.2" cy="280.3" r="2"/><circle cx="71.7" cy="287.5" r="2"/><circle cx="89.6" cy="272.9" r="2"/><circle cx="38.7" cy="293.2" r="2"/><circle cx="77.8" cy="283.6" r="2"/><circle cx="22.6" cy="290.6" r="2"/><circle cx="155.6" cy="240.8" r="2"/><circle cx="145.0" cy="216.5" r="2"/><circle cx="109.8" cy="277.9" r="2"/><circle cx="136.3" cy="239.0" r="2"/><circle cx="146.7" cy="239.9" r="2"/><circle cx="136.9" cy="243.4" r="2"/><circle cx="133.2" cy="250.3" r="2"/><circle cx="63.6" cy="282.3" r="2"/><circle cx="114.6" cy="250.7" r="2"/><circle cx="90.4" cy="188.6" r="2"/><circle cx="133.6" cy="200.0" r="2"/><circle cx="104.4" cy="206.0" r="2"/><circle cx="113.6" cy="210.2" r="2"/><circle cx="94.6" cy="213.4" r="2"/><circle cx="104.4" cy="213.4" r="2"/><circle cx="106.0" cy="216.6" r="2"/><circle cx="130.0" cy="212.0" r="2"/><circle cx="132.0" cy="217.0" r="2"/><circle cx="129.4" cy="218.2" r="2"/><circle cx="180.6" cy="202.6" r="2"/><circle cx="180.0" cy="204.4" r="2"/><circle cx="210.0" cy="206.0" r="2"/><circle cx="194.0" cy="209.0" r="2"/><circle cx="147.6" cy="214.6" r="2"/><circle cx="169.0" cy="211.0" r="2"/><circle cx="177.0" cy="213.0" r="2"/><circle cx="161.0" cy="213.6" r="2"/><circle cx="154.0" cy="215.0" r="2"/><circle cx="180.3" cy="202.5" r="2"/><circle cx="179.8" cy="204.5" r="2"/><circle cx="176.2" cy="212.2" r="2"/><circle cx="178.0" cy="213.0" r="2"/><circle cx="172.1" cy="215.1" r="2"/><circle cx="173.8" cy="216.3" r="2"/><circle cx="173.0" cy="224.3" r="2"/><circle cx="173.8" cy="232.7" r="2"/><circle cx="179.8" cy="231.5" r="2"/><circle cx="187.6" cy="233.9" r="2"/><circle cx="175.7" cy="239.2" r="2"/><circle cx="184.0" cy="242.4" r="2"/><circle cx="177.4" cy="246.0" r="2"/><circle cx="172.5" cy="221.0" r="2"/><circle cx="174.0" cy="227.5" r="2"/></g>
<line x1="12" y1="312" x2="209.6" y2="203" stroke="#4c72b0" stroke-width="3.2" stroke-linecap="round"/>
<text x="93.3" y="325.73" font-size="8.7" fill="#262626" text-anchor="start" >Mephentermine</text>
<text transform="translate(12.53,263.5) rotate(-90)" font-size="8.7" fill="#262626" text-anchor="middle">Pseudoephedrine</text>
<polygon fill="#4c72b0" fill-opacity="0.15" points="245.4,312.2 248.7,311.0 251.9,309.8 255.2,308.6 258.5,307.4 261.8,306.2 265.0,304.7 268.3,303.2 271.6,301.8 274.9,300.3 278.1,298.8 281.4,297.2 284.7,295.6 288.0,294.0 291.2,292.4 294.5,290.7 297.8,289.1 301.1,287.5 304.3,285.8 307.6,284.1 310.9,282.4 314.2,280.8 317.4,279.1 320.7,277.4 324.0,275.7 327.3,274.1 330.5,272.4 333.8,270.7 337.1,269.0 340.4,267.3 343.6,265.6 346.9,264.0 350.2,262.3 353.5,260.6 356.7,258.9 360.0,257.2 363.3,255.5 366.6,253.8 369.8,252.0 373.1,250.3 376.4,248.5 379.7,246.8 382.9,245.0 386.2,243.3 389.5,241.6 392.8,239.8 396.0,238.1 399.3,236.3 402.6,234.6 405.9,232.9 409.1,231.2 412.4,229.5 415.7,227.8 419.0,226.1 422.2,224.4 425.5,222.6 428.8,220.9 432.1,219.2 435.3,217.5 438.6,215.8 438.6,234.0 435.3,235.3 432.1,236.6 428.8,238.0 425.5,239.3 422.2,240.6 419.0,241.9 415.7,243.3 412.4,244.6 409.1,245.9 405.9,247.2 402.6,248.5 399.3,249.9 396.0,251.3 392.8,252.8 389.5,254.2 386.2,255.7 382.9,257.1 379.7,258.6 376.4,260.0 373.1,261.4 369.8,262.9 366.6,264.3 363.3,265.8 360.0,267.2 356.7,268.7 353.5,270.2 350.2,271.6 346.9,273.1 343.6,274.6 340.4,276.0 337.1,277.5 333.8,279.0 330.5,280.5 327.3,281.9 324.0,283.4 320.7,284.9 317.4,286.3 314.2,287.8 310.9,289.3 307.6,290.8 304.3,292.3 301.1,293.7 297.8,295.2 294.5,296.8 291.2,298.3 288.0,299.8 284.7,301.4 281.4,302.9 278.1,304.5 274.9,306.2 271.6,307.8 268.3,309.5 265.0,311.2 261.8,312.8 258.5,314.8 255.2,316.7 251.9,318.7 248.7,320.6 245.4,322.6"/>
<g fill="#4c72b0" fill-opacity="0.88" stroke="#4c72b0" stroke-opacity="0.9" stroke-width="0.8"><circle cx="278.2" cy="273.0" r="2"/><circle cx="246.4" cy="306.8" r="2"/><circle cx="251.6" cy="309.4" r="2"/><circle cx="259.4" cy="309.0" r="2"/><circle cx="261.0" cy="303.0" r="2"/><circle cx="266.0" cy="303.0" r="2"/><circle cx="269.0" cy="309.0" r="2"/><circle cx="268.4" cy="293.6" r="2"/><circle cx="274.0" cy="293.0" r="2"/><circle cx="275.0" cy="294.4" r="2"/><circle cx="274.4" cy="297.4" r="2"/><circle cx="279.0" cy="289.0" r="2"/><circle cx="287.0" cy="294.0" r="2"/><circle cx="279.4" cy="302.6" r="2"/><circle cx="282.0" cy="301.6" r="2"/><circle cx="280.6" cy="305.6" r="2"/><circle cx="278.6" cy="304.4" r="2"/><circle cx="286.6" cy="302.4" r="2"/><circle cx="294.2" cy="299.6" r="2"/><circle cx="295.0" cy="309.4" r="2"/><circle cx="313.4" cy="290.0" r="2"/><circle cx="328.6" cy="297.8" r="2"/><circle cx="334.8" cy="289.4" r="2"/><circle cx="336.4" cy="293.6" r="2"/><circle cx="342.6" cy="293.4" r="2"/><circle cx="359.4" cy="286.6" r="2"/><circle cx="377.4" cy="281.6" r="2"/><circle cx="389.0" cy="277.4" r="2"/><circle cx="406.0" cy="279.4" r="2"/><circle cx="370.0" cy="265.4" r="2"/><circle cx="356.2" cy="230.5" r="2"/><circle cx="438.6" cy="224.4" r="2"/><circle cx="438.6" cy="229.4" r="2"/><circle cx="438.6" cy="245.0" r="2"/><circle cx="438.6" cy="247.0" r="2"/><circle cx="438.6" cy="250.0" r="2"/><circle cx="431.0" cy="247.6" r="2"/><circle cx="429.4" cy="255.0" r="2"/><circle cx="433.4" cy="254.6" r="2"/><circle cx="430.4" cy="266.0" r="2"/><circle cx="434.2" cy="264.0" r="2"/><circle cx="406.6" cy="253.0" r="2"/><circle cx="373.0" cy="257.0" r="2"/><circle cx="438.6" cy="190.5" r="2"/><circle cx="438.6" cy="191.6" r="2"/><circle cx="438.6" cy="192.7" r="2"/><circle cx="438.6" cy="193.8" r="2"/><circle cx="438.6" cy="194.9" r="2"/><circle cx="438.6" cy="196.0" r="2"/><circle cx="438.6" cy="197.1" r="2"/><circle cx="438.6" cy="198.2" r="2"/><circle cx="438.6" cy="199.3" r="2"/><circle cx="438.6" cy="200.4" r="2"/><circle cx="438.6" cy="201.5" r="2"/></g>
<line x1="245.4" y1="317.4" x2="438.6" y2="224.4" stroke="#4c72b0" stroke-width="3.2" stroke-linecap="round"/>
<text x="322" y="326.13" font-size="8.7" fill="#262626" text-anchor="start" >Trametinib</text>
<text transform="translate(246.13,268.7) rotate(-90)" font-size="8.7" fill="#262626" text-anchor="middle">Selumetinib</text>
<polygon fill="#4c72b0" fill-opacity="0.15" points="478.6,290.6 481.8,289.0 485.1,287.3 488.3,285.7 491.6,284.0 494.8,282.4 498.1,280.7 501.3,279.2 504.6,278.0 507.8,276.8 511.1,275.6 514.3,274.4 517.6,273.1 520.8,271.9 524.1,270.7 527.3,269.5 530.6,268.2 533.8,266.9 537.1,265.6 540.3,264.4 543.5,263.1 546.8,261.8 550.0,260.5 553.3,259.2 556.5,258.0 559.8,256.7 563.0,255.4 566.3,254.2 569.5,252.9 572.8,251.7 576.0,250.4 579.3,249.2 582.5,247.9 585.8,246.7 589.0,245.4 592.3,244.2 595.5,243.0 598.8,241.8 602.0,240.3 605.3,238.6 608.5,236.9 611.7,235.2 615.0,233.5 618.2,231.8 621.5,230.1 624.7,228.4 628.0,226.6 631.2,224.9 634.5,223.2 637.7,221.3 641.0,219.4 644.2,217.5 647.5,215.6 650.7,213.7 654.0,211.8 657.2,209.9 660.5,208.1 663.7,206.2 667.0,204.3 670.2,202.4 670.2,236.6 667.0,237.7 663.7,238.8 660.5,239.8 657.2,240.9 654.0,242.0 650.7,243.1 647.5,244.1 644.2,245.2 641.0,246.3 637.7,247.4 634.5,248.4 631.2,249.4 628.0,250.5 624.7,251.5 621.5,252.5 618.2,253.6 615.0,254.7 611.7,255.8 608.5,256.9 605.3,258.0 602.0,259.1 598.8,260.2 595.5,261.4 592.3,262.5 589.0,263.7 585.8,264.9 582.5,266.1 579.3,267.3 576.0,268.8 572.8,270.2 569.5,271.7 566.3,273.2 563.0,274.6 559.8,276.1 556.5,277.8 553.3,279.4 550.0,281.1 546.8,282.8 543.5,284.4 540.3,286.1 537.1,288.0 533.8,289.9 530.6,291.8 527.3,293.8 524.1,295.7 520.8,297.6 517.6,299.6 514.3,301.5 511.1,303.5 507.8,305.4 504.6,307.4 501.3,309.3 498.1,311.3 494.8,313.3 491.6,315.3 488.3,317.4 485.1,319.4 481.8,321.4 478.6,323.4"/>
<g fill="#4c72b0" fill-opacity="0.88" stroke="#4c72b0" stroke-opacity="0.9" stroke-width="0.8"><circle cx="478.6" cy="297.0" r="2"/><circle cx="491.0" cy="290.0" r="2"/><circle cx="500.0" cy="279.4" r="2"/><circle cx="506.4" cy="282.6" r="2"/><circle cx="525.2" cy="274.2" r="2"/><circle cx="546.0" cy="274.4" r="2"/><circle cx="556.8" cy="290.2" r="2"/><circle cx="564.4" cy="309.0" r="2"/><circle cx="552.2" cy="314.8" r="2"/><circle cx="670.2" cy="188.6" r="2"/><circle cx="668.6" cy="219.4" r="2"/><circle cx="619.6" cy="226.5" r="2"/><circle cx="589.0" cy="238.8" r="2"/><circle cx="595.0" cy="241.0" r="2"/><circle cx="590.6" cy="249.6" r="2"/><circle cx="593.6" cy="261.6" r="2"/><circle cx="633.4" cy="240.4" r="2"/><circle cx="526.0" cy="251.2" r="2"/></g>
<line x1="478.6" y1="303" x2="670.2" y2="216.4" stroke="#4c72b0" stroke-width="3.2" stroke-linecap="round"/>
<text x="540.3" y="326.13" font-size="8.7" fill="#262626" text-anchor="start" >Bortezomib</text>
<text transform="translate(478.43,259) rotate(-90)" font-size="8.7" fill="#262626" text-anchor="middle">MG132</text>
<g id="mols" font-size="4.3" fill="#1a1a1a" stroke="#1a1a1a" stroke-width="0.05">
<path d="M247.70,48.30L247.70,43.77M247.70,43.77L253.53,40.41M249.05,44.32L253.33,41.85M253.53,40.41L259.36,43.77M259.36,43.77L259.36,50.50M259.36,50.50L253.53,53.87M258.01,49.95L253.73,52.42M253.53,53.87L249.61,51.60M247.70,43.77L241.87,40.41M253.53,53.87L253.53,60.59M253.53,40.41L253.53,33.67M253.83,34.19L257.93,31.83M253.23,33.16L257.33,30.79M253.53,33.67L249.43,31.31M247.70,28.31L247.70,23.58M259.36,43.77L265.19,40.41M265.19,40.41L265.19,33.67M266.34,39.51L266.34,34.57M265.19,33.67L271.02,30.31M271.02,30.31L276.85,33.67M271.22,31.76L275.50,34.22M276.85,33.67L276.85,40.41M276.85,40.41L271.02,43.77M275.50,39.86L271.22,42.32M271.02,43.77L265.19,40.41M271.02,30.31L271.02,25.58M272.75,22.58L275.12,21.21M269.59,22.06L267.22,20.70M268.99,23.10L266.62,21.73M259.36,50.50L265.19,53.87M264.59,53.87L264.59,58.59M265.79,53.87L265.79,58.59M265.19,53.87L269.29,51.50M272.75,51.50L276.85,53.87M276.85,53.87L282.68,50.50M282.68,50.50L286.78,52.87M288.51,55.87L288.51,60.59M290.24,52.87L294.34,50.50M294.34,50.50L300.17,53.87M300.17,53.87L306.00,50.50M301.52,54.41L305.80,51.95M306.00,50.50L311.83,53.87M311.83,53.87L311.83,60.59M310.68,54.77L310.68,59.70M311.83,60.59L306.00,63.96M306.00,63.96L300.17,60.59M305.80,62.51L301.52,60.05M300.17,60.59L300.17,53.87" fill="none" stroke="#1a1a1a" stroke-width="0.62" stroke-linecap="round"/>
<text x="249.30" y="52.05" text-anchor="end">HN</text>
<text x="259.36" y="31.86" text-anchor="middle">O</text>
<text x="247.70" y="31.86" text-anchor="middle">O</text>
<text x="271.82" y="25.13" text-anchor="middle">N<tspan font-size="3" dy="-1.3">+</tspan></text>
<text x="277.65" y="21.76" text-anchor="middle">O<tspan font-size="3" dy="-1.3">-</tspan></text>
<text x="265.19" y="21.76" text-anchor="middle">O</text>
<text x="265.19" y="62.14" text-anchor="middle">O</text>
<text x="271.02" y="52.05" text-anchor="middle">O</text>
<text x="288.51" y="55.41" text-anchor="middle">N</text>
<path d="M408.51,121.61L412.56,119.30M412.56,119.30L418.52,122.70M412.77,120.74L417.17,123.25M418.52,122.70L418.52,129.50M418.52,129.50L412.56,132.90M412.56,132.90L406.60,129.50M412.35,131.46L407.95,128.95M406.60,129.50L406.60,124.90M412.56,119.30L412.56,112.50M406.60,129.50L400.64,132.90M418.52,122.70L424.48,119.30M425.08,119.30L425.08,114.50M423.88,119.30L423.88,114.50M424.48,119.30L428.70,121.71M432.18,121.71L436.40,119.30M436.40,119.30L442.36,122.70M418.52,129.50L424.48,132.90M424.48,132.90L430.44,129.50M425.83,133.45L430.23,130.94M430.44,129.50L436.40,132.90M436.40,132.90L436.40,139.70M435.25,133.80L435.25,138.80M436.40,139.70L430.44,143.10M430.44,143.10L424.48,139.70M430.23,141.66L425.83,139.15M424.48,139.70L424.48,132.90M412.56,132.90L412.56,139.70M412.26,140.22L416.49,142.63M412.86,139.18L417.08,141.59M412.56,139.70L408.34,142.11M406.60,145.10L406.60,149.90M430.44,143.10L430.44,147.90M432.18,150.89L434.66,152.31M428.41,150.37L425.92,151.79M429.00,151.41L426.51,152.83" fill="none" stroke="#1a1a1a" stroke-width="0.62" stroke-linecap="round"/>
<text x="408.20" y="124.25" text-anchor="end">HN</text>
<text x="424.48" y="114.05" text-anchor="middle">O</text>
<text x="430.44" y="124.25" text-anchor="middle">O</text>
<text x="418.52" y="144.65" text-anchor="middle">O</text>
<text x="406.60" y="144.65" text-anchor="middle">O</text>
<text x="431.24" y="151.45" text-anchor="middle">N<tspan font-size="3" dy="-1.3">+</tspan></text>
<text x="437.20" y="154.85" text-anchor="middle">O<tspan font-size="3" dy="-1.3">-</tspan></text>
<text x="424.48" y="154.85" text-anchor="middle">O</text>
<path d="M485.98,26.66L490.48,24.10M490.48,24.10L496.46,27.50M496.46,27.50L496.46,32.60M494.98,35.14L490.48,37.70M490.48,37.70L484.50,34.30M484.50,34.30L484.50,29.20M497.94,35.14L502.44,37.70M502.44,37.70L502.44,44.50M502.44,44.50L508.42,47.90M508.42,47.90L508.42,53.00M509.90,55.54L514.40,58.10M514.40,58.10L514.40,64.90M515.55,59.00L515.55,64.00M514.40,64.90L509.90,67.46M506.94,67.46L502.44,64.90M502.44,64.90L502.44,58.10M501.29,64.00L501.29,59.00M502.44,58.10L506.94,55.54M502.44,58.10L496.46,54.70M496.46,54.70L490.48,58.10M496.25,56.14L491.83,58.65M490.48,58.10L490.48,64.90M490.48,64.90L496.46,68.30M491.83,64.35L496.25,66.86M496.46,68.30L502.44,64.90M514.40,58.10L520.38,54.70M520.38,54.70L526.36,58.10M520.59,56.14L525.01,58.65M526.36,58.10L526.36,64.90M526.36,64.90L520.38,68.30M525.01,64.35L520.59,66.86M520.38,68.30L514.40,64.90M526.36,58.10L530.60,55.69M483.02,26.66L478.52,24.10" fill="none" stroke="#1a1a1a" stroke-width="0.62" stroke-linecap="round"/>
<text x="484.50" y="29.05" text-anchor="middle">N</text>
<text x="496.46" y="35.85" text-anchor="middle">N</text>
<text x="508.42" y="56.25" text-anchor="middle">N</text>
<text x="508.42" y="69.85" text-anchor="middle">S</text>
<text x="530.74" y="56.25" text-anchor="start">Cl</text>
<path d="M630.63,111.55L635.06,109.01M635.06,109.01L640.96,112.40M640.96,112.40L640.96,117.48M639.49,120.03L635.06,122.57M635.06,122.57L629.16,119.18M629.16,119.18L629.16,114.10M642.43,120.03L646.86,122.57M646.86,122.57L646.86,129.35M646.86,129.35L652.76,132.74M652.76,132.74L652.76,137.82M654.23,140.37L658.66,142.91M658.66,142.91L658.66,149.69M659.81,143.81L659.81,148.79M658.66,149.69L654.23,152.23M651.29,152.23L646.86,149.69M646.86,149.69L646.86,142.91M645.71,148.79L645.71,143.81M646.86,142.91L651.29,140.37M646.86,142.91L640.96,139.52M640.96,139.52L635.06,142.91M640.75,140.97L636.41,143.46M635.06,142.91L635.06,149.69M635.06,149.69L640.96,153.08M636.41,149.14L640.75,151.63M640.96,153.08L646.86,149.69M658.66,142.91L664.56,139.52M664.56,139.52L670.46,142.91M664.77,140.97L669.11,143.46M670.46,142.91L670.46,149.69M670.46,149.69L664.56,153.08M669.11,149.14L664.77,151.63M664.56,153.08L658.66,149.69M670.46,142.91L674.63,140.52M627.69,111.55L623.26,109.01M623.26,109.01L617.36,112.40M617.36,112.40L613.37,110.11" fill="none" stroke="#1a1a1a" stroke-width="0.62" stroke-linecap="round"/>
<text x="629.16" y="113.95" text-anchor="middle">N</text>
<text x="640.96" y="120.73" text-anchor="middle">N</text>
<text x="652.76" y="141.07" text-anchor="middle">N</text>
<text x="652.76" y="154.63" text-anchor="middle">S</text>
<text x="674.76" y="141.07" text-anchor="start">Cl</text>
<text x="613.06" y="110.56" text-anchor="end">HO</text>
<path d="M19.76,193.80L25.74,197.24M19.97,195.25L24.39,197.79M25.74,197.24L25.74,204.12M25.74,204.12L19.76,207.56M24.39,203.57L19.97,206.11M19.76,207.56L13.78,204.12M13.78,204.12L13.78,197.24M14.93,203.22L14.93,198.14M13.78,197.24L19.76,193.80M25.74,204.12L31.72,207.56M31.72,207.56L37.70,204.12M37.88,202.74L37.52,202.74M38.06,201.37L37.34,201.37M38.24,199.99L37.16,199.99M38.42,198.62L36.98,198.62M38.60,197.24L36.80,197.24M37.70,204.12L42.12,206.66M45.24,206.66L49.66,204.12" fill="none" stroke="#1a1a1a" stroke-width="0.62" stroke-linecap="round"/>
<polygon points="31.72,207.56 30.82,212.44 32.62,212.44" fill="#1a1a1a"/>
<text x="30.12" y="216.39" text-anchor="start">OH</text>
<text x="43.68" y="209.11" text-anchor="middle">N</text>
<text x="43.68" y="212.71" text-anchor="middle">H</text>
<path d="M179.46,301.50L185.44,304.94M179.67,302.95L184.09,305.49M185.44,304.94L185.44,311.82M185.44,311.82L179.46,315.26M184.09,311.27L179.67,313.81M179.46,315.26L173.48,311.82M173.48,311.82L173.48,304.94M174.63,310.92L174.63,305.84M173.48,304.94L179.46,301.50M185.44,311.82L191.42,315.26M191.42,315.26L197.40,311.82M197.40,311.82L194.40,306.02M197.40,311.82L200.90,306.22M197.40,311.82L201.82,314.36M204.94,314.36L209.36,311.82" fill="none" stroke="#1a1a1a" stroke-width="0.62" stroke-linecap="round"/>
<text x="203.38" y="316.81" text-anchor="middle">N</text>
<text x="203.38" y="320.21" text-anchor="middle">H</text>
<path d="M259.00,216.95L264.82,220.30M264.82,220.30L264.82,227.00M263.67,221.20L263.67,226.10M264.82,227.00L259.00,230.35M259.00,230.35L253.18,227.00M258.79,228.90L254.53,226.45M253.18,227.00L253.18,220.30M253.18,220.30L259.00,216.95M254.53,220.85L258.79,218.40M259.00,216.95L259.00,212.05M264.82,220.30L268.91,217.95M270.64,214.95L270.64,210.25M270.64,210.25L276.46,206.90M270.85,208.80L275.11,206.35M276.46,206.90L276.46,200.20M276.46,200.20L270.64,196.85M275.11,200.75L270.85,198.30M270.64,196.85L264.82,200.20M264.82,200.20L264.82,206.90M265.97,201.10L265.97,206.00M264.82,206.90L270.64,210.25M270.64,196.85L270.64,192.15M276.46,206.90L280.55,209.25M264.82,227.00L270.64,230.35M270.04,230.35L270.04,235.05M271.24,230.35L271.24,235.05M270.64,230.35L274.90,227.90M278.02,227.90L280.55,229.35M284.01,229.35L288.10,227.00M288.10,227.00L293.92,230.35M293.92,230.35L298.01,228.00M253.18,220.30L248.74,218.53M246.20,219.31L243.14,223.82M246.65,220.70L244.60,223.72M243.14,223.82L246.16,227.95M248.75,228.71L253.18,227.00M246.58,230.92L245.25,234.61" fill="none" stroke="#1a1a1a" stroke-width="0.62" stroke-linecap="round"/>
<text x="259.00" y="211.80" text-anchor="middle">F</text>
<text x="269.14" y="218.50" text-anchor="start">NH</text>
<text x="271.14" y="191.70" text-anchor="middle">Br</text>
<text x="280.68" y="211.80" text-anchor="start">Cl</text>
<text x="270.64" y="238.60" text-anchor="middle">O</text>
<text x="276.46" y="228.55" text-anchor="middle">N</text>
<text x="282.28" y="231.90" text-anchor="middle">O</text>
<text x="298.14" y="228.55" text-anchor="start">OH</text>
<text x="247.16" y="219.45" text-anchor="middle">N</text>
<text x="247.16" y="230.87" text-anchor="middle">N</text>
<text x="276.46" y="225.25" text-anchor="middle">H</text>
<path d="M410.08,282.72L405.73,285.22M406.03,284.70L401.94,282.35M405.43,285.74L401.34,283.39M405.73,285.22L405.73,290.22M407.20,292.77L411.55,295.27M410.95,295.27L410.95,299.97M412.15,295.27L412.15,299.97M411.55,295.27L417.37,291.92M417.37,291.92L417.37,285.22M417.37,285.22L413.02,282.72M417.37,285.22L423.19,281.87M418.72,285.77L422.98,283.32M423.19,281.87L423.19,275.17M423.19,281.87L429.01,285.22M429.31,285.74L433.40,283.39M428.71,284.70L432.80,282.35M429.01,285.22L429.01,290.22M430.48,292.77L434.83,295.27M427.54,292.77L423.19,295.27M423.19,295.27L417.37,291.92M422.98,293.82L418.72,291.37M423.19,295.27L423.19,299.97M424.92,302.97L429.01,305.32M429.01,305.32L434.83,301.97M430.36,305.87L434.62,303.42M434.83,301.97L440.65,305.32M440.65,305.32L440.65,312.02M439.50,306.22L439.50,311.12M440.65,312.02L434.83,315.37M434.83,315.37L429.01,312.02M434.62,313.92L430.36,311.47M429.01,312.02L429.01,305.32M429.01,312.02L424.75,314.47M440.65,312.02L445.08,314.57M411.55,280.17L411.55,275.17M411.55,275.17L417.37,271.82M411.76,273.72L416.02,271.27M417.37,271.82L417.37,265.12M417.37,265.12L411.55,261.77M416.02,265.67L411.76,263.22M411.55,261.77L405.73,265.12M405.73,265.12L405.73,271.82M406.88,266.02L406.88,270.92M405.73,271.82L411.55,275.17M405.73,265.12L401.47,262.67M398.35,262.67L394.09,265.12M393.49,265.12L393.49,269.82M394.69,265.12L394.69,269.82M394.09,265.12L388.27,261.77M404.26,292.77L399.91,295.27M399.91,295.27L393.31,295.27M393.31,295.27L396.61,300.87M396.61,300.87L399.91,295.27" fill="none" stroke="#1a1a1a" stroke-width="0.62" stroke-linecap="round"/>
<text x="411.55" y="283.42" text-anchor="middle">N</text>
<text x="399.91" y="283.42" text-anchor="middle">O</text>
<text x="405.73" y="293.47" text-anchor="middle">N</text>
<text x="411.55" y="303.52" text-anchor="middle">O</text>
<text x="434.83" y="283.42" text-anchor="middle">O</text>
<text x="429.01" y="293.47" text-anchor="middle">N</text>
<text x="424.79" y="303.52" text-anchor="end">HN</text>
<text x="423.19" y="316.92" text-anchor="middle">F</text>
<text x="446.47" y="316.92" text-anchor="middle">I</text>
<text x="399.91" y="263.32" text-anchor="middle">N</text>
<text x="394.09" y="273.37" text-anchor="middle">O</text>
<text x="399.91" y="260.12" text-anchor="middle">H</text>
<path d="M489.70,210.00L489.70,216.78M488.55,210.90L488.55,215.88M489.70,216.78L483.79,220.17M483.79,220.17L477.88,216.78M483.58,218.72L479.23,216.23M477.88,216.78L477.88,210.00M477.88,210.00L483.79,206.61M479.23,210.55L483.58,208.06M483.79,206.61L489.70,210.00M489.70,210.00L495.61,206.61M495.61,206.61L499.79,209.00M503.25,209.00L507.43,206.61M508.03,206.61L508.03,201.83M506.83,206.61L506.83,201.83M507.43,206.61L511.78,209.10M514.90,209.10L519.25,206.61M519.25,199.83L525.16,196.44M525.16,196.44L525.16,189.66M525.16,196.44L531.07,199.83M519.25,206.61L525.16,210.00M524.56,210.00L524.56,214.78M525.76,210.00L525.76,214.78M525.16,210.00L529.51,207.51M532.63,207.51L536.98,210.00M536.98,216.78L542.89,220.17M542.89,220.17L542.89,226.95M542.89,220.17L548.80,216.78M536.98,210.00L542.89,206.61M543.49,206.61L543.49,201.83M542.29,206.61L542.29,201.83M542.89,206.61L547.24,209.10M550.36,209.10L554.71,206.61M554.89,205.25L554.53,205.25M555.07,203.90L554.35,203.90M555.25,202.54L554.17,202.54M555.43,201.19L553.99,201.19M555.61,199.83L553.81,199.83M555.01,200.35L559.53,197.76M554.41,199.31L558.93,196.72M554.71,206.61L560.62,210.00M560.62,210.00L566.53,206.61M566.53,206.61L566.53,199.83M566.53,206.61L572.44,210.00" fill="none" stroke="#1a1a1a" stroke-width="0.62" stroke-linecap="round"/>
<polygon points="519.25,206.61 520.15,199.83 518.35,199.83" fill="#1a1a1a"/>
<polygon points="536.98,210.00 536.08,216.78 537.88,216.78" fill="#1a1a1a"/>
<text x="501.52" y="211.55" text-anchor="middle">O</text>
<text x="507.43" y="201.38" text-anchor="middle">O</text>
<text x="513.34" y="211.55" text-anchor="middle">N</text>
<text x="525.16" y="218.33" text-anchor="middle">O</text>
<text x="531.07" y="208.16" text-anchor="middle">N</text>
<text x="542.89" y="201.38" text-anchor="middle">O</text>
<text x="548.80" y="211.55" text-anchor="middle">N</text>
<text x="560.62" y="197.99" text-anchor="middle">O</text>
<text x="512.84" y="214.85" text-anchor="middle">H</text>
<text x="530.57" y="204.96" text-anchor="middle">H</text>
<text x="548.30" y="214.85" text-anchor="middle">H</text>
<path d="M618.22,308.91L622.65,311.46M622.65,311.46L622.65,318.26M621.50,312.36L621.50,317.36M622.65,318.26L618.22,320.81M615.28,320.81L610.85,318.26M615.07,319.37L612.20,317.71M610.85,318.26L610.85,311.46M610.85,311.46L615.28,308.91M612.20,312.01L615.07,310.35M622.65,311.46L628.55,308.06M629.15,308.06L629.15,303.26M627.95,308.06L627.95,303.26M628.55,308.06L632.89,310.56M636.01,310.56L640.35,308.06M640.35,301.26L646.25,297.86M646.25,297.86L646.25,291.06M647.40,296.96L647.40,291.96M646.25,291.06L652.15,287.66M652.15,287.66L658.05,291.06M652.36,289.11L656.70,291.61M658.05,291.06L658.05,297.86M658.05,297.86L652.15,301.26M656.70,297.31L652.36,299.81M652.15,301.26L646.25,297.86M640.35,308.06L646.25,311.46M645.65,311.46L645.65,316.26M646.85,311.46L646.85,316.26M646.25,311.46L650.59,308.96M653.71,308.96L658.05,311.46M656.58,319.11L653.71,320.76M659.52,319.11L662.39,320.76M658.05,311.46L663.95,308.06M663.95,308.06L669.85,311.46M669.85,311.46L669.85,318.26M669.85,311.46L675.75,308.06" fill="none" stroke="#1a1a1a" stroke-width="0.62" stroke-linecap="round"/>
<polygon points="640.35,308.06 641.25,301.26 639.45,301.26" fill="#1a1a1a"/>
<polygon points="658.05,311.46 657.15,316.56 658.95,316.56" fill="#1a1a1a"/>
<text x="616.75" y="309.61" text-anchor="middle">N</text>
<text x="616.75" y="323.21" text-anchor="middle">N</text>
<text x="628.55" y="302.81" text-anchor="middle">O</text>
<text x="634.45" y="313.01" text-anchor="middle">N</text>
<text x="646.25" y="319.81" text-anchor="middle">O</text>
<text x="652.15" y="309.61" text-anchor="middle">N</text>
<text x="658.05" y="319.81" text-anchor="middle">B</text>
<text x="653.55" y="323.51" text-anchor="end">HO</text>
<text x="662.55" y="323.51" text-anchor="start">OH</text>
<text x="634.45" y="316.31" text-anchor="middle">H</text>
<text x="652.15" y="306.41" text-anchor="middle">H</text>
</g>
</svg>
</body></html>
